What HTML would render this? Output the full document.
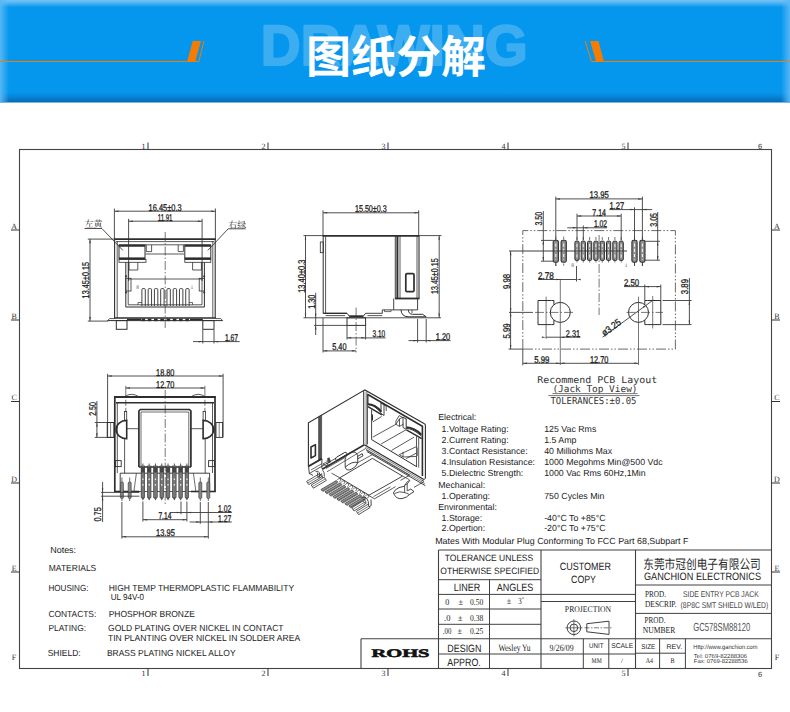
<!DOCTYPE html><html><head><meta charset="utf-8"><title>图纸分解</title>
<style>html,body{margin:0;padding:0;background:#fff}svg{display:block}</style></head><body>
<svg width="790" height="712" viewBox="0 0 790 712" text-rendering="geometricPrecision">
<rect width="790" height="712" fill="#fff"/>
<defs>
<linearGradient id="hb" x1="0" y1="0" x2="0" y2="1">
<stop offset="0" stop-color="#74c3f6"/><stop offset="0.03" stop-color="#50b3f3"/><stop offset="0.07" stop-color="#0596ee"/>
<stop offset="0.90" stop-color="#0596ee"/><stop offset="0.95" stop-color="#0682d6"/><stop offset="1" stop-color="#0769b0"/>
</linearGradient>
<linearGradient id="hl" x1="0" y1="0" x2="1" y2="0">
<stop offset="0" stop-color="#5bb9f4" stop-opacity="0.95"/><stop offset="1" stop-color="#5bb9f4" stop-opacity="0"/>
</linearGradient>
<linearGradient id="hr" x1="1" y1="0" x2="0" y2="0">
<stop offset="0" stop-color="#5bb9f4" stop-opacity="0.95"/><stop offset="1" stop-color="#5bb9f4" stop-opacity="0"/>
</linearGradient>
</defs>
<rect x="0" y="0" width="790" height="102.5" fill="url(#hb)"/>
<rect x="0" y="0" width="9" height="102.5" fill="url(#hl)"/>
<rect x="781" y="0" width="9" height="102.5" fill="url(#hr)"/>
<path d="M0 61.5 H198.8 L203.9 41.1" stroke="#f57c00" stroke-width="1" fill="none"/>
<path d="M187.1 61.5 L192.8 41.1 H201 L195.3 61.5 Z" fill="#f57c00"/>
<path d="M790 61.5 H591.5 L585.2 41.1" stroke="#f57c00" stroke-width="1" fill="none"/>
<path d="M603.9 61.5 L598.5 41.1 H590.1 L596 61.5 Z" fill="#f57c00"/>
<g opacity="0.22"><text x="260.8" y="65.4" font-size="57" font-weight="bold" font-family='"Liberation Sans", "Noto Sans CJK SC", sans-serif' fill="#ffffff" stroke="#ffffff" stroke-width="2" stroke-linejoin="round" textLength="267" lengthAdjust="spacingAndGlyphs">DRAWING</text></g>
<text x="396" y="73" font-size="45" font-weight="bold" font-family='"Liberation Sans","Noto Sans CJK SC",sans-serif' fill="#ffffff" text-anchor="middle">图纸分解</text>
<rect x="19.5" y="149.5" width="752" height="519" stroke="#444" stroke-width="1.1" fill="none" />
<line x1="148" y1="142.5" x2="148" y2="149.5" stroke="#333" stroke-width="1" />
<text x="145.5" y="148.5" font-size="8" font-family='"Liberation Serif", "Noto Serif CJK SC", serif' fill="#333" text-anchor="end" >1</text>
<line x1="148" y1="668.5" x2="148" y2="676" stroke="#333" stroke-width="1" />
<text x="145.5" y="676" font-size="8" font-family='"Liberation Serif", "Noto Serif CJK SC", serif' fill="#333" text-anchor="end" >1</text>
<line x1="268" y1="142.5" x2="268" y2="149.5" stroke="#333" stroke-width="1" />
<text x="265.5" y="148.5" font-size="8" font-family='"Liberation Serif", "Noto Serif CJK SC", serif' fill="#333" text-anchor="end" >2</text>
<line x1="268" y1="668.5" x2="268" y2="676" stroke="#333" stroke-width="1" />
<text x="265.5" y="676" font-size="8" font-family='"Liberation Serif", "Noto Serif CJK SC", serif' fill="#333" text-anchor="end" >2</text>
<line x1="388" y1="142.5" x2="388" y2="149.5" stroke="#333" stroke-width="1" />
<text x="385.5" y="148.5" font-size="8" font-family='"Liberation Serif", "Noto Serif CJK SC", serif' fill="#333" text-anchor="end" >3</text>
<line x1="388" y1="668.5" x2="388" y2="676" stroke="#333" stroke-width="1" />
<text x="385.5" y="676" font-size="8" font-family='"Liberation Serif", "Noto Serif CJK SC", serif' fill="#333" text-anchor="end" >3</text>
<line x1="508" y1="142.5" x2="508" y2="149.5" stroke="#333" stroke-width="1" />
<text x="505.5" y="148.5" font-size="8" font-family='"Liberation Serif", "Noto Serif CJK SC", serif' fill="#333" text-anchor="end" >4</text>
<line x1="508" y1="668.5" x2="508" y2="676" stroke="#333" stroke-width="1" />
<text x="505.5" y="676" font-size="8" font-family='"Liberation Serif", "Noto Serif CJK SC", serif' fill="#333" text-anchor="end" >4</text>
<line x1="628" y1="142.5" x2="628" y2="149.5" stroke="#333" stroke-width="1" />
<text x="625.5" y="148.5" font-size="8" font-family='"Liberation Serif", "Noto Serif CJK SC", serif' fill="#333" text-anchor="end" >5</text>
<line x1="628" y1="668.5" x2="628" y2="676" stroke="#333" stroke-width="1" />
<text x="625.5" y="676" font-size="8" font-family='"Liberation Serif", "Noto Serif CJK SC", serif' fill="#333" text-anchor="end" >5</text>
<text x="760" y="148.5" font-size="7.5" font-family='"Liberation Sans", "Noto Sans CJK SC", sans-serif' fill="#333" text-anchor="middle" >6</text>
<text x="760" y="677" font-size="7.5" font-family='"Liberation Sans", "Noto Sans CJK SC", sans-serif' fill="#333" text-anchor="middle" >6</text>
<line x1="11" y1="230" x2="19.5" y2="230" stroke="#333" stroke-width="1" />
<text x="14.2" y="228.5" font-size="8" font-family='"Liberation Serif", "Noto Serif CJK SC", serif' fill="#333" text-anchor="middle" >A</text>
<line x1="771.5" y1="230" x2="780" y2="230" stroke="#333" stroke-width="1" />
<text x="777" y="228.5" font-size="8" font-family='"Liberation Serif", "Noto Serif CJK SC", serif' fill="#333" text-anchor="middle" >A</text>
<line x1="11" y1="320" x2="19.5" y2="320" stroke="#333" stroke-width="1" />
<text x="14.2" y="318.5" font-size="8" font-family='"Liberation Serif", "Noto Serif CJK SC", serif' fill="#333" text-anchor="middle" >B</text>
<line x1="771.5" y1="320" x2="780" y2="320" stroke="#333" stroke-width="1" />
<text x="777" y="318.5" font-size="8" font-family='"Liberation Serif", "Noto Serif CJK SC", serif' fill="#333" text-anchor="middle" >B</text>
<line x1="11" y1="401.5" x2="19.5" y2="401.5" stroke="#333" stroke-width="1" />
<text x="14.2" y="400.0" font-size="8" font-family='"Liberation Serif", "Noto Serif CJK SC", serif' fill="#333" text-anchor="middle" >C</text>
<line x1="771.5" y1="401.5" x2="780" y2="401.5" stroke="#333" stroke-width="1" />
<text x="777" y="400.0" font-size="8" font-family='"Liberation Serif", "Noto Serif CJK SC", serif' fill="#333" text-anchor="middle" >C</text>
<line x1="11" y1="483" x2="19.5" y2="483" stroke="#333" stroke-width="1" />
<text x="14.2" y="481.5" font-size="8" font-family='"Liberation Serif", "Noto Serif CJK SC", serif' fill="#333" text-anchor="middle" >D</text>
<line x1="771.5" y1="483" x2="780" y2="483" stroke="#333" stroke-width="1" />
<text x="777" y="481.5" font-size="8" font-family='"Liberation Serif", "Noto Serif CJK SC", serif' fill="#333" text-anchor="middle" >D</text>
<line x1="11" y1="572" x2="19.5" y2="572" stroke="#333" stroke-width="1" />
<text x="14.2" y="570.5" font-size="8" font-family='"Liberation Serif", "Noto Serif CJK SC", serif' fill="#333" text-anchor="middle" >E</text>
<line x1="771.5" y1="572" x2="780" y2="572" stroke="#333" stroke-width="1" />
<text x="777" y="570.5" font-size="8" font-family='"Liberation Serif", "Noto Serif CJK SC", serif' fill="#333" text-anchor="middle" >E</text>
<text x="14" y="660.2" font-size="8" font-family='"Liberation Serif", "Noto Serif CJK SC", serif' fill="#333" text-anchor="middle" >F</text>
<text x="777" y="660.2" font-size="8" font-family='"Liberation Serif", "Noto Serif CJK SC", serif' fill="#333" text-anchor="middle" >F</text>
<text x="50.2" y="552.8" font-size="8.9" font-family='"Liberation Sans", "Noto Sans CJK SC", sans-serif' fill="#222" textLength="25.9" lengthAdjust="spacingAndGlyphs" >Notes:</text>
<text x="48.8" y="571.2" font-size="8.9" font-family='"Liberation Sans", "Noto Sans CJK SC", sans-serif' fill="#222" textLength="47.5" lengthAdjust="spacingAndGlyphs" >MATERIALS</text>
<text x="48.4" y="590.7" font-size="8.9" font-family='"Liberation Sans", "Noto Sans CJK SC", sans-serif' fill="#222" textLength="40.1" lengthAdjust="spacingAndGlyphs" >HOUSING:</text>
<text x="108.7" y="590.7" font-size="8.9" font-family='"Liberation Sans", "Noto Sans CJK SC", sans-serif' fill="#222" textLength="185.4" lengthAdjust="spacingAndGlyphs" >HIGH TEMP THERMOPLASTIC FLAMMABILITY</text>
<text x="110.8" y="600.3" font-size="8.9" font-family='"Liberation Sans", "Noto Sans CJK SC", sans-serif' fill="#222" textLength="33.3" lengthAdjust="spacingAndGlyphs" >UL 94V-0</text>
<text x="48.4" y="617.3" font-size="8.9" font-family='"Liberation Sans", "Noto Sans CJK SC", sans-serif' fill="#222" textLength="47.9" lengthAdjust="spacingAndGlyphs" >CONTACTS:</text>
<text x="108.7" y="617.3" font-size="8.9" font-family='"Liberation Sans", "Noto Sans CJK SC", sans-serif' fill="#222" textLength="86.1" lengthAdjust="spacingAndGlyphs" >PHOSPHOR BRONZE</text>
<text x="48.4" y="631.1" font-size="8.9" font-family='"Liberation Sans", "Noto Sans CJK SC", sans-serif' fill="#222" textLength="37.6" lengthAdjust="spacingAndGlyphs" >PLATING:</text>
<text x="108" y="631.1" font-size="8.9" font-family='"Liberation Sans", "Noto Sans CJK SC", sans-serif' fill="#222" textLength="175.5" lengthAdjust="spacingAndGlyphs" >GOLD PLATING OVER NICKEL IN CONTACT</text>
<text x="108" y="640.7" font-size="8.9" font-family='"Liberation Sans", "Noto Sans CJK SC", sans-serif' fill="#222" textLength="192.1" lengthAdjust="spacingAndGlyphs" >TIN PLANTING OVER NICKEL IN SOLDER AREA</text>
<text x="47.7" y="656.3" font-size="8.9" font-family='"Liberation Sans", "Noto Sans CJK SC", sans-serif' fill="#222" textLength="33" lengthAdjust="spacingAndGlyphs" >SHIELD:</text>
<text x="106.9" y="656.3" font-size="8.9" font-family='"Liberation Sans", "Noto Sans CJK SC", sans-serif' fill="#222" textLength="128.7" lengthAdjust="spacingAndGlyphs" >BRASS PLATING NICKEL ALLOY</text>
<text x="438.2" y="420.1" font-size="8.8" font-family='"Liberation Sans", "Noto Sans CJK SC", sans-serif' fill="#222" >Electrical:</text>
<text x="441.6" y="431.9" font-size="8.8" font-family='"Liberation Sans", "Noto Sans CJK SC", sans-serif' fill="#222" >1.Voltage Rating:</text>
<text x="544.2" y="431.9" font-size="8.8" font-family='"Liberation Sans", "Noto Sans CJK SC", sans-serif' fill="#222" >125 Vac Rms</text>
<text x="441.6" y="442.9" font-size="8.8" font-family='"Liberation Sans", "Noto Sans CJK SC", sans-serif' fill="#222" >2.Current Rating:</text>
<text x="544.2" y="442.9" font-size="8.8" font-family='"Liberation Sans", "Noto Sans CJK SC", sans-serif' fill="#222" >1.5 Amp</text>
<text x="441.6" y="454.0" font-size="8.8" font-family='"Liberation Sans", "Noto Sans CJK SC", sans-serif' fill="#222" >3.Contact Resistance:</text>
<text x="544.2" y="454.0" font-size="8.8" font-family='"Liberation Sans", "Noto Sans CJK SC", sans-serif' fill="#222" >40 Milliohms Max</text>
<text x="441.6" y="465.0" font-size="8.8" font-family='"Liberation Sans", "Noto Sans CJK SC", sans-serif' fill="#222" >4.Insulation Resistance:</text>
<text x="544.2" y="465.0" font-size="8.8" font-family='"Liberation Sans", "Noto Sans CJK SC", sans-serif' fill="#222" >1000 Megohms Min@500 Vdc</text>
<text x="441.6" y="476.0" font-size="8.8" font-family='"Liberation Sans", "Noto Sans CJK SC", sans-serif' fill="#222" >5.Dielectric Strength:</text>
<text x="544.2" y="476.0" font-size="8.8" font-family='"Liberation Sans", "Noto Sans CJK SC", sans-serif' fill="#222" >1000 Vac Rms 60Hz,1Min</text>
<text x="438.2" y="487.5" font-size="8.8" font-family='"Liberation Sans", "Noto Sans CJK SC", sans-serif' fill="#222" >Mechanical:</text>
<text x="441.6" y="498.5" font-size="8.8" font-family='"Liberation Sans", "Noto Sans CJK SC", sans-serif' fill="#222" >1.Operating:</text>
<text x="544.2" y="498.5" font-size="8.8" font-family='"Liberation Sans", "Noto Sans CJK SC", sans-serif' fill="#222" >750 Cycles Min</text>
<text x="438.2" y="509.9" font-size="8.8" font-family='"Liberation Sans", "Noto Sans CJK SC", sans-serif' fill="#222" >Environmental:</text>
<text x="441.6" y="520.9" font-size="8.8" font-family='"Liberation Sans", "Noto Sans CJK SC", sans-serif' fill="#222" >1.Storage:</text>
<text x="544.2" y="520.9" font-size="8.8" font-family='"Liberation Sans", "Noto Sans CJK SC", sans-serif' fill="#222" >-40°C To +85°C</text>
<text x="441.6" y="531.2" font-size="8.8" font-family='"Liberation Sans", "Noto Sans CJK SC", sans-serif' fill="#222" >2.Opertion:</text>
<text x="544.2" y="531.2" font-size="8.8" font-family='"Liberation Sans", "Noto Sans CJK SC", sans-serif' fill="#222" >-20°C To +75°C</text>
<text x="435.2" y="543.6" font-size="8.8" font-family='"Liberation Sans", "Noto Sans CJK SC", sans-serif' fill="#222" textLength="253.3" lengthAdjust="spacingAndGlyphs" >Mates With Modular Plug Conforming To FCC Part 68,Subpart F</text>
<line x1="438.5" y1="550" x2="771.5" y2="550" stroke="#404040" stroke-width="1.1" />
<line x1="438.5" y1="550" x2="438.5" y2="668.5" stroke="#404040" stroke-width="1.1" />
<line x1="541" y1="550" x2="541" y2="668.5" stroke="#404040" stroke-width="1.1" />
<line x1="635.5" y1="550" x2="635.5" y2="668.5" stroke="#404040" stroke-width="1.1" />
<line x1="438.5" y1="579.7" x2="541" y2="579.7" stroke="#404040" stroke-width="1" />
<line x1="438.5" y1="594.4" x2="541" y2="594.4" stroke="#404040" stroke-width="1" />
<line x1="438.5" y1="609" x2="541" y2="609" stroke="#404040" stroke-width="1" />
<line x1="438.5" y1="624.3" x2="541" y2="624.3" stroke="#404040" stroke-width="1" />
<line x1="489.5" y1="579.7" x2="489.5" y2="668.5" stroke="#404040" stroke-width="1" />
<line x1="361" y1="638.7" x2="771.5" y2="638.7" stroke="#404040" stroke-width="1.1" />
<line x1="361" y1="638.7" x2="361" y2="668.5" stroke="#404040" stroke-width="1.1" />
<line x1="438.5" y1="654" x2="635.5" y2="654" stroke="#404040" stroke-width="1" />
<line x1="541" y1="594.4" x2="635.5" y2="594.4" stroke="#404040" stroke-width="1" />
<line x1="541" y1="601.5" x2="635.5" y2="601.5" stroke="#404040" stroke-width="1" />
<line x1="583.3" y1="638.7" x2="583.3" y2="668.5" stroke="#404040" stroke-width="1" />
<line x1="608.8" y1="638.7" x2="608.8" y2="668.5" stroke="#404040" stroke-width="1" />
<line x1="635.5" y1="585" x2="771.5" y2="585" stroke="#404040" stroke-width="1" />
<line x1="635.5" y1="613.4" x2="771.5" y2="613.4" stroke="#404040" stroke-width="1" />
<line x1="635.5" y1="653.2" x2="685.4" y2="653.2" stroke="#404040" stroke-width="1" />
<line x1="659.6" y1="638.7" x2="659.6" y2="668.5" stroke="#404040" stroke-width="1" />
<line x1="685.4" y1="638.7" x2="685.4" y2="668.5" stroke="#404040" stroke-width="1" />
<text x="489" y="561.3" font-size="9.2" font-family='"Liberation Sans", "Noto Sans CJK SC", sans-serif' fill="#222" text-anchor="middle" textLength="88.4" lengthAdjust="spacingAndGlyphs" >TOLERANCE UNLESS</text>
<text x="489.7" y="573.5" font-size="9.2" font-family='"Liberation Sans", "Noto Sans CJK SC", sans-serif' fill="#222" text-anchor="middle" textLength="98.7" lengthAdjust="spacingAndGlyphs" >OTHERWISE SPECIFIED</text>
<text x="467" y="590.6" font-size="10.6" font-family='"Liberation Sans", "Noto Sans CJK SC", sans-serif' fill="#222" text-anchor="middle" textLength="26.6" lengthAdjust="spacingAndGlyphs" >LINER</text>
<text x="515" y="590.6" font-size="10.6" font-family='"Liberation Sans", "Noto Sans CJK SC", sans-serif' fill="#222" text-anchor="middle" textLength="36.5" lengthAdjust="spacingAndGlyphs" >ANGLES</text>
<text x="445.3" y="605.3" font-size="9.2" font-family='"Liberation Serif", "Noto Serif CJK SC", serif' fill="#222" textLength="4" lengthAdjust="spacingAndGlyphs" >0</text>
<text x="458.5" y="605.3" font-size="9.2" font-family='"Liberation Serif", "Noto Serif CJK SC", serif' fill="#222" textLength="4.5" lengthAdjust="spacingAndGlyphs" >±</text>
<text x="470.1" y="605.3" font-size="9.2" font-family='"Liberation Serif", "Noto Serif CJK SC", serif' fill="#222" textLength="13.2" lengthAdjust="spacingAndGlyphs" >0.50</text>
<text x="444" y="620.5" font-size="9.2" font-family='"Liberation Serif", "Noto Serif CJK SC", serif' fill="#222" textLength="6.4" lengthAdjust="spacingAndGlyphs" >.0</text>
<text x="458" y="620.5" font-size="9.2" font-family='"Liberation Serif", "Noto Serif CJK SC", serif' fill="#222" textLength="4.5" lengthAdjust="spacingAndGlyphs" >±</text>
<text x="470.1" y="620.5" font-size="9.2" font-family='"Liberation Serif", "Noto Serif CJK SC", serif' fill="#222" textLength="13.2" lengthAdjust="spacingAndGlyphs" >0.38</text>
<text x="442.8" y="634.2" font-size="9.2" font-family='"Liberation Serif", "Noto Serif CJK SC", serif' fill="#222" textLength="8.6" lengthAdjust="spacingAndGlyphs" >.00</text>
<text x="457.5" y="634.2" font-size="9.2" font-family='"Liberation Serif", "Noto Serif CJK SC", serif' fill="#222" textLength="4.5" lengthAdjust="spacingAndGlyphs" >±</text>
<text x="470.1" y="634.2" font-size="9.2" font-family='"Liberation Serif", "Noto Serif CJK SC", serif' fill="#222" textLength="13.2" lengthAdjust="spacingAndGlyphs" >0.25</text>
<text x="506.8" y="604.3" font-size="9.2" font-family='"Liberation Serif", "Noto Serif CJK SC", serif' fill="#222" textLength="4.5" lengthAdjust="spacingAndGlyphs" >±</text>
<text x="518.2" y="604.3" font-size="9.2" font-family='"Liberation Serif", "Noto Serif CJK SC", serif' fill="#222" textLength="3.4" lengthAdjust="spacingAndGlyphs" >3</text>
<text x="521.8" y="601" font-size="6" font-family='"Liberation Serif", "Noto Serif CJK SC", serif' fill="#222" >°</text>
<text x="464.4" y="651.9" font-size="10.6" font-family='"Liberation Sans", "Noto Sans CJK SC", sans-serif' fill="#222" text-anchor="middle" textLength="34.2" lengthAdjust="spacingAndGlyphs" >DESIGN</text>
<text x="464" y="665.8" font-size="10.6" font-family='"Liberation Sans", "Noto Sans CJK SC", sans-serif' fill="#222" text-anchor="middle" textLength="33.5" lengthAdjust="spacingAndGlyphs" >APPRO.</text>
<text x="514.5" y="650.9" font-size="9.6" font-family='"Liberation Serif", "Noto Serif CJK SC", serif' fill="#222" text-anchor="middle" textLength="32" lengthAdjust="spacingAndGlyphs" >Wesley Yu</text>
<text x="561.6" y="651" font-size="9.6" font-family='"Liberation Serif", "Noto Serif CJK SC", serif' fill="#222" text-anchor="middle" textLength="24" lengthAdjust="spacingAndGlyphs" >9/26/09</text>
<text x="596.3" y="648.1" font-size="7" font-family='"Liberation Sans", "Noto Sans CJK SC", sans-serif' fill="#222" text-anchor="middle" textLength="14.4" lengthAdjust="spacingAndGlyphs" >UNIT</text>
<text x="622.2" y="648.1" font-size="7" font-family='"Liberation Sans", "Noto Sans CJK SC", sans-serif' fill="#222" text-anchor="middle" textLength="22" lengthAdjust="spacingAndGlyphs" >SCALE</text>
<text x="596.7" y="662.8" font-size="7.4" font-family='"Liberation Serif", "Noto Serif CJK SC", serif' fill="#222" text-anchor="middle" textLength="10.2" lengthAdjust="spacingAndGlyphs" >MM</text>
<text x="622" y="663" font-size="7" font-family='"Liberation Serif", "Noto Serif CJK SC", serif' fill="#222" text-anchor="middle" >/</text>
<text x="585.4" y="569.9" font-size="10.6" font-family='"Liberation Sans", "Noto Sans CJK SC", sans-serif' fill="#222" text-anchor="middle" textLength="51.4" lengthAdjust="spacingAndGlyphs" >CUSTOMER</text>
<text x="583.5" y="583" font-size="10.6" font-family='"Liberation Sans", "Noto Sans CJK SC", sans-serif' fill="#222" text-anchor="middle" textLength="24.9" lengthAdjust="spacingAndGlyphs" >COPY</text>
<text x="588" y="611.6" font-size="8.8" font-family='"Liberation Serif", "Noto Serif CJK SC", serif' fill="#222" text-anchor="middle" textLength="46.3" lengthAdjust="spacingAndGlyphs" >PROJECTION</text>
<circle cx="573.9" cy="627.8" r="6.8" fill="none" stroke="#404040" stroke-width="1"/>
<circle cx="573.9" cy="627.8" r="3.8" fill="none" stroke="#404040" stroke-width="1"/>
<line x1="565.3" y1="627.8" x2="582.5" y2="627.8" stroke="#404040" stroke-width="0.7" />
<line x1="573.9" y1="619.2" x2="573.9" y2="636.4" stroke="#404040" stroke-width="0.7" />
<path d="M586.8 623.7 L609 621.2 V634.4 L586.8 631.8 Z" stroke="#404040" stroke-width="1" fill="none" />
<line x1="584.5" y1="627.8" x2="611.5" y2="627.8" stroke="#404040" stroke-width="0.7" stroke-dasharray="5 1.5 1.5 1.5"/>
<text x="702" y="568.5" font-size="13.2" font-family='"Liberation Sans","Noto Sans CJK SC",sans-serif' fill="#2a2a2a" text-anchor="middle" textLength="117.6" lengthAdjust="spacingAndGlyphs" >东莞市冠创电子有限公司</text>
<text x="702.5" y="579.7" font-size="10.7" font-family='"Liberation Sans", "Noto Sans CJK SC", sans-serif' fill="#222" text-anchor="middle" textLength="117" lengthAdjust="spacingAndGlyphs" >GANCHION ELECTRONICS</text>
<text x="645" y="596.5" font-size="9" font-family='"Liberation Serif", "Noto Serif CJK SC", serif' fill="#222" textLength="21" lengthAdjust="spacingAndGlyphs" >PROD.</text>
<text x="645" y="606.9" font-size="9" font-family='"Liberation Serif", "Noto Serif CJK SC", serif' fill="#222" textLength="31.5" lengthAdjust="spacingAndGlyphs" >DESCRIP.</text>
<text x="683" y="597" font-size="8.4" font-family='"Liberation Sans", "Noto Sans CJK SC", sans-serif' fill="#444" textLength="75.7" lengthAdjust="spacingAndGlyphs" >SIDE ENTRY PCB JACK</text>
<text x="680.6" y="608" font-size="8.4" font-family='"Liberation Sans", "Noto Sans CJK SC", sans-serif' fill="#444" textLength="87.7" lengthAdjust="spacingAndGlyphs" >(8P8C SMT SHIELD W/LED)</text>
<text x="644.5" y="623" font-size="9" font-family='"Liberation Serif", "Noto Serif CJK SC", serif' fill="#222" textLength="21" lengthAdjust="spacingAndGlyphs" >PROD.</text>
<text x="642.8" y="632.6" font-size="9" font-family='"Liberation Serif", "Noto Serif CJK SC", serif' fill="#222" textLength="32.5" lengthAdjust="spacingAndGlyphs" >NUMBER</text>
<text x="693.3" y="631.4" font-size="11.7" font-family='"Liberation Sans", "Noto Sans CJK SC", sans-serif' fill="#555" textLength="57" lengthAdjust="spacingAndGlyphs" >GC578SM88120</text>
<text x="648.3" y="648.7" font-size="6.8" font-family='"Liberation Sans", "Noto Sans CJK SC", sans-serif' fill="#222" text-anchor="middle" textLength="14" lengthAdjust="spacingAndGlyphs" >SIZE</text>
<text x="674.4" y="648.7" font-size="6.8" font-family='"Liberation Sans", "Noto Sans CJK SC", sans-serif' fill="#222" text-anchor="middle" textLength="15.7" lengthAdjust="spacingAndGlyphs" >REV.</text>
<text x="649.3" y="662.7" font-size="7.4" font-family='"Liberation Serif", "Noto Serif CJK SC", serif' fill="#222" text-anchor="middle" textLength="7.3" lengthAdjust="spacingAndGlyphs" >A4</text>
<text x="672.5" y="662.7" font-size="7.4" font-family='"Liberation Serif", "Noto Serif CJK SC", serif' fill="#222" text-anchor="middle" textLength="4.1" lengthAdjust="spacingAndGlyphs" >B</text>
<text x="693.3" y="648.7" font-size="6.2" font-family='"Liberation Sans", "Noto Sans CJK SC", sans-serif' fill="#333" textLength="64.2" lengthAdjust="spacingAndGlyphs" >Http://www.ganchion.com</text>
<text x="693.8" y="657.8" font-size="5.8" font-family='"Liberation Sans", "Noto Sans CJK SC", sans-serif' fill="#333" textLength="53.4" lengthAdjust="spacingAndGlyphs" >Tel:   0769-82288306</text>
<text x="693.8" y="663.1" font-size="5.8" font-family='"Liberation Sans", "Noto Sans CJK SC", sans-serif' fill="#333" textLength="54.1" lengthAdjust="spacingAndGlyphs" >Fax:  0769-82288536</text>
<text x="371.5" y="657.2" font-size="11.5" font-family='"Liberation Serif", "Noto Serif CJK SC", serif' fill="#111" font-weight="bold" textLength="58" lengthAdjust="spacingAndGlyphs" stroke="#111" stroke-width="0.55">ROHS</text>
<line x1="114.4" y1="211.2" x2="215.4" y2="211.2" stroke="#3c3c3c" stroke-width="0.9" />
<path d="M114.4 211.2 L118.6 210.4 L118.6 211.9 Z" fill="#3c3c3c"/>
<path d="M215.4 211.2 L211.2 211.9 L211.2 210.4 Z" fill="#3c3c3c"/>
<text x="148.6" y="210.7" font-size="9.8" font-family='"Liberation Sans", "Noto Sans CJK SC", sans-serif' fill="#222" textLength="33.0" lengthAdjust="spacingAndGlyphs" stroke="#222" stroke-width="0.3">16.45±0.3</text>
<line x1="114.4" y1="208.5" x2="114.4" y2="239" stroke="#3c3c3c" stroke-width="0.9" />
<line x1="215.4" y1="208.5" x2="215.4" y2="239" stroke="#3c3c3c" stroke-width="0.9" />
<line x1="128.6" y1="221.2" x2="202.1" y2="221.2" stroke="#3c3c3c" stroke-width="0.9" />
<path d="M128.6 221.2 L132.8 220.4 L132.8 221.9 Z" fill="#3c3c3c"/>
<path d="M202.1 221.2 L197.9 221.9 L197.9 220.4 Z" fill="#3c3c3c"/>
<text x="157.7" y="220.7" font-size="9.8" font-family='"Liberation Sans", "Noto Sans CJK SC", sans-serif' fill="#222" textLength="14.8" lengthAdjust="spacingAndGlyphs" stroke="#222" stroke-width="0.3">11.91</text>
<line x1="128.6" y1="218.8" x2="128.6" y2="281" stroke="#3c3c3c" stroke-width="0.9" />
<line x1="202.1" y1="218.8" x2="202.1" y2="281" stroke="#3c3c3c" stroke-width="0.9" />
<line x1="90" y1="239.1" x2="90" y2="321.1" stroke="#3c3c3c" stroke-width="0.9" />
<path d="M90.0 239.1 L90.8 243.3 L89.2 243.3 Z" fill="#3c3c3c"/>
<path d="M90.0 321.1 L89.2 316.9 L90.8 316.9 Z" fill="#3c3c3c"/>
<text x="89.1" y="298.4" font-size="9.8" font-family='"Liberation Sans", "Noto Sans CJK SC", sans-serif' fill="#222" textLength="36.5" lengthAdjust="spacingAndGlyphs" transform="rotate(-90 89.1 298.4)" stroke="#222" stroke-width="0.3">13.45±0.15</text>
<line x1="87.8" y1="239.1" x2="114.4" y2="239.1" stroke="#3c3c3c" stroke-width="0.9" />
<line x1="87.8" y1="321.1" x2="108" y2="321.1" stroke="#3c3c3c" stroke-width="0.9" />
<line x1="193" y1="341.6" x2="239.7" y2="341.6" stroke="#3c3c3c" stroke-width="0.9" />
<path d="M202.8 341.6 L198.6 342.4 L198.6 340.9 Z" fill="#3c3c3c"/>
<path d="M214.0 341.6 L218.2 340.9 L218.2 342.4 Z" fill="#3c3c3c"/>
<text x="224.9" y="341.1" font-size="9.8" font-family='"Liberation Sans", "Noto Sans CJK SC", sans-serif' fill="#222" textLength="13.2" lengthAdjust="spacingAndGlyphs" stroke="#222" stroke-width="0.3">1.67</text>
<line x1="202.8" y1="330" x2="202.8" y2="343.5" stroke="#3c3c3c" stroke-width="0.9" />
<line x1="214" y1="330" x2="214" y2="343.5" stroke="#3c3c3c" stroke-width="0.9" />
<text x="84.6" y="227.3" font-size="9" font-family='"Liberation Serif","Noto Serif CJK SC",serif' fill="#2a2a2a" >左黄</text>
<line x1="84.5" y1="228.5" x2="101.9" y2="228.5" stroke="#3c3c3c" stroke-width="0.9" />
<line x1="101.9" y1="228.5" x2="122.9" y2="250.4" stroke="#3c3c3c" stroke-width="0.9" />
<text x="228.2" y="227.6" font-size="9" font-family='"Liberation Serif","Noto Serif CJK SC",serif' fill="#2a2a2a" >右绿</text>
<line x1="228.2" y1="228.8" x2="245.6" y2="228.8" stroke="#3c3c3c" stroke-width="0.9" />
<line x1="228.2" y1="228.8" x2="207.8" y2="250.4" stroke="#3c3c3c" stroke-width="0.9" />
<line x1="165.2" y1="232" x2="165.2" y2="329" stroke="#3c3c3c" stroke-width="0.7" stroke-dasharray="9 2 1.5 2"/>
<line x1="114" y1="239.2" x2="215.8" y2="239.2" stroke="#2e2e2e" stroke-width="1.8" />
<line x1="116" y1="241.6" x2="214" y2="241.6" stroke="#2e2e2e" stroke-width="0.8" />
<line x1="114.6" y1="239" x2="114.6" y2="318.5" stroke="#2e2e2e" stroke-width="1.1" />
<line x1="117.2" y1="241" x2="117.2" y2="318" stroke="#2e2e2e" stroke-width="0.8" />
<line x1="215.2" y1="239" x2="215.2" y2="318.5" stroke="#2e2e2e" stroke-width="1.1" />
<line x1="212.8" y1="241" x2="212.8" y2="318" stroke="#2e2e2e" stroke-width="0.8" />
<rect x="119" y="245" width="26" height="14" stroke="#2e2e2e" stroke-width="1.0" fill="none" />
<line x1="119" y1="245.6" x2="145" y2="245.6" stroke="#2e2e2e" stroke-width="2.3" />
<line x1="119" y1="258.4" x2="145" y2="258.4" stroke="#2e2e2e" stroke-width="2.0" />
<rect x="119" y="259.6" width="27" height="2.7" stroke="#2e2e2e" stroke-width="0.8" fill="none" />
<rect x="184.8" y="245" width="26.0" height="14" stroke="#2e2e2e" stroke-width="1.0" fill="none" />
<line x1="184.8" y1="245.6" x2="210.8" y2="245.6" stroke="#2e2e2e" stroke-width="2.3" />
<line x1="184.8" y1="258.4" x2="210.8" y2="258.4" stroke="#2e2e2e" stroke-width="2.0" />
<rect x="184.8" y="259.6" width="26.0" height="2.7" stroke="#2e2e2e" stroke-width="0.8" fill="none" />
<path d="M146.3 245 V251.6 H151.6 V245" stroke="#2e2e2e" stroke-width="0.8" fill="none" />
<path d="M183.4 245 V251.6 H178.2 V245" stroke="#2e2e2e" stroke-width="0.8" fill="none" />
<line x1="145" y1="244.8" x2="184.8" y2="244.8" stroke="#2e2e2e" stroke-width="0.8" />
<line x1="151.6" y1="254" x2="178.2" y2="254" stroke="#2e2e2e" stroke-width="0.8" />
<line x1="145.6" y1="254" x2="151.6" y2="254" stroke="#2e2e2e" stroke-width="0.8" />
<line x1="178.2" y1="254" x2="184.2" y2="254" stroke="#2e2e2e" stroke-width="0.8" />
<path d="M125.8 262.3 V307 H204.4 V262.3" stroke="#2e2e2e" stroke-width="1.0" fill="none" />
<path d="M128.2 262.3 V304.8 H202 V262.3" stroke="#2e2e2e" stroke-width="0.8" fill="none" />
<path d="M129 262.3 V270 H137.8 V262.3" stroke="#2e2e2e" stroke-width="0.8" fill="none" />
<path d="M201.4 262.3 V270 H192.6 V262.3" stroke="#2e2e2e" stroke-width="0.8" fill="none" />
<line x1="128.2" y1="279" x2="202" y2="279" stroke="#2e2e2e" stroke-width="0.8" />
<rect x="125.8" y="278.3" width="5.2" height="12.7" stroke="#2e2e2e" stroke-width="0.8" fill="none" />
<rect x="199.2" y="278.3" width="5.2" height="12.7" stroke="#2e2e2e" stroke-width="0.8" fill="none" />
<circle cx="126" cy="276.3" r="1" fill="#2e2e2e"/><circle cx="126" cy="292.6" r="1" fill="#2e2e2e"/>
<circle cx="204.2" cy="276.3" r="1" fill="#2e2e2e"/><circle cx="204.2" cy="292.6" r="1" fill="#2e2e2e"/>
<path d="M141.90 306 V289.6 Q141.90 288.6 142.90 288.6 H144.30 Q145.30 288.6 145.30 289.6 V306" stroke="#2e2e2e" stroke-width="0.9" fill="none" />
<path d="M148.16 306 V289.6 Q148.16 288.6 149.16 288.6 H150.56 Q151.56 288.6 151.56 289.6 V306" stroke="#2e2e2e" stroke-width="0.9" fill="none" />
<path d="M154.42 306 V289.6 Q154.42 288.6 155.42 288.6 H156.82 Q157.82 288.6 157.82 289.6 V306" stroke="#2e2e2e" stroke-width="0.9" fill="none" />
<path d="M160.68 306 V289.6 Q160.68 288.6 161.68 288.6 H163.08 Q164.08 288.6 164.08 289.6 V306" stroke="#2e2e2e" stroke-width="0.9" fill="none" />
<path d="M166.94 306 V289.6 Q166.94 288.6 167.94 288.6 H169.34 Q170.34 288.6 170.34 289.6 V306" stroke="#2e2e2e" stroke-width="0.9" fill="none" />
<path d="M173.20 306 V289.6 Q173.20 288.6 174.20 288.6 H175.60 Q176.60 288.6 176.60 289.6 V306" stroke="#2e2e2e" stroke-width="0.9" fill="none" />
<path d="M179.46 306 V289.6 Q179.46 288.6 180.46 288.6 H181.86 Q182.86 288.6 182.86 289.6 V306" stroke="#2e2e2e" stroke-width="0.9" fill="none" />
<path d="M185.72 306 V289.6 Q185.72 288.6 186.72 288.6 H188.12 Q189.12 288.6 189.12 289.6 V306" stroke="#2e2e2e" stroke-width="0.9" fill="none" />
<line x1="138" y1="302.5" x2="141.9" y2="302.5" stroke="#2e2e2e" stroke-width="0.7" />
<line x1="189.3" y1="302.5" x2="192.5" y2="302.5" stroke="#2e2e2e" stroke-width="0.7" />
<line x1="138" y1="302.5" x2="138" y2="304.8" stroke="#2e2e2e" stroke-width="0.7" />
<line x1="192.5" y1="302.5" x2="192.5" y2="304.8" stroke="#2e2e2e" stroke-width="0.7" />
<text x="136.2" y="288.6" font-size="5.5" font-family='"Liberation Serif", "Noto Serif CJK SC", serif' fill="#666" >8</text>
<text x="190.6" y="288.6" font-size="5.5" font-family='"Liberation Serif", "Noto Serif CJK SC", serif' fill="#666" >1</text>
<line x1="114" y1="318" x2="215.8" y2="318" stroke="#2e2e2e" stroke-width="1.6" />
<line x1="107.6" y1="320.6" x2="222.7" y2="320.6" stroke="#2e2e2e" stroke-width="1.0" />
<path d="M107.6 320.6 L109.5 318.6 H114" stroke="#2e2e2e" stroke-width="0.8" fill="none" />
<path d="M222.7 320.6 L220.8 318.6 H215.8" stroke="#2e2e2e" stroke-width="0.8" fill="none" />
<rect x="116.3" y="320.6" width="10.7" height="8.7" stroke="#2e2e2e" stroke-width="1.0" fill="none" />
<rect x="202.8" y="320.6" width="11.2" height="8.7" stroke="#2e2e2e" stroke-width="1.0" fill="none" />
<rect x="141.50" y="318.6" width="3.6" height="2.6" fill="#2e2e2e"/>
<rect x="147.76" y="318.6" width="3.6" height="2.6" fill="#2e2e2e"/>
<rect x="154.02" y="318.6" width="3.6" height="2.6" fill="#2e2e2e"/>
<rect x="160.28" y="318.6" width="3.6" height="2.6" fill="#2e2e2e"/>
<rect x="166.54" y="318.6" width="3.6" height="2.6" fill="#2e2e2e"/>
<rect x="172.80" y="318.6" width="3.6" height="2.6" fill="#2e2e2e"/>
<rect x="179.06" y="318.6" width="3.6" height="2.6" fill="#2e2e2e"/>
<rect x="185.32" y="318.6" width="3.6" height="2.6" fill="#2e2e2e"/>
<line x1="127" y1="319.4" x2="141" y2="319.4" stroke="#2e2e2e" stroke-width="1.4" />
<line x1="190" y1="319.4" x2="202.8" y2="319.4" stroke="#2e2e2e" stroke-width="1.4" />
<line x1="323" y1="212.8" x2="418.7" y2="212.8" stroke="#3c3c3c" stroke-width="0.9" />
<path d="M323.0 212.8 L327.2 212.1 L327.2 213.6 Z" fill="#3c3c3c"/>
<path d="M418.7 212.8 L414.5 213.6 L414.5 212.1 Z" fill="#3c3c3c"/>
<text x="354.9" y="212.3" font-size="9.8" font-family='"Liberation Sans", "Noto Sans CJK SC", sans-serif' fill="#222" textLength="31.9" lengthAdjust="spacingAndGlyphs" stroke="#222" stroke-width="0.3">15.50±0.3</text>
<line x1="323" y1="210.3" x2="323" y2="235.6" stroke="#3c3c3c" stroke-width="0.9" />
<line x1="418.7" y1="210.3" x2="418.7" y2="235.6" stroke="#3c3c3c" stroke-width="0.9" />
<line x1="303.5" y1="235.6" x2="323" y2="235.6" stroke="#3c3c3c" stroke-width="0.9" />
<line x1="418.7" y1="235.6" x2="441.5" y2="235.6" stroke="#3c3c3c" stroke-width="0.9" />
<line x1="305.5" y1="235.6" x2="305.5" y2="317.8" stroke="#3c3c3c" stroke-width="0.9" />
<path d="M305.5 235.6 L306.2 239.8 L304.8 239.8 Z" fill="#3c3c3c"/>
<path d="M305.5 317.8 L304.8 313.6 L306.2 313.6 Z" fill="#3c3c3c"/>
<text x="304.6" y="292.8" font-size="9.8" font-family='"Liberation Sans", "Noto Sans CJK SC", sans-serif' fill="#222" textLength="33.3" lengthAdjust="spacingAndGlyphs" transform="rotate(-90 304.6 292.8)" stroke="#222" stroke-width="0.3">13.40±0.3</text>
<line x1="439.2" y1="235.6" x2="439.2" y2="317.8" stroke="#3c3c3c" stroke-width="0.9" />
<path d="M439.2 235.6 L439.9 239.8 L438.4 239.8 Z" fill="#3c3c3c"/>
<path d="M439.2 317.8 L438.4 313.6 L439.9 313.6 Z" fill="#3c3c3c"/>
<text x="438.3" y="294" font-size="9.8" font-family='"Liberation Sans", "Noto Sans CJK SC", sans-serif' fill="#222" textLength="35.6" lengthAdjust="spacingAndGlyphs" transform="rotate(-90 438.3 294)" stroke="#222" stroke-width="0.3">13.45±0.15</text>
<line x1="303.5" y1="317.8" x2="441" y2="317.8" stroke="#3c3c3c" stroke-width="0.9" />
<line x1="315.7" y1="292.8" x2="315.7" y2="335" stroke="#3c3c3c" stroke-width="0.9" />
<path d="M315.7 317.8 L314.9 313.6 L316.4 313.6 Z" fill="#3c3c3c"/>
<path d="M315.7 325.4 L316.4 329.6 L314.9 329.6 Z" fill="#3c3c3c"/>
<text x="314.8" y="308.7" font-size="9.8" font-family='"Liberation Sans", "Noto Sans CJK SC", sans-serif' fill="#222" textLength="14.1" lengthAdjust="spacingAndGlyphs" transform="rotate(-90 314.8 308.7)" stroke="#222" stroke-width="0.3">1.30</text>
<line x1="314" y1="325.4" x2="347" y2="325.4" stroke="#3c3c3c" stroke-width="0.9" />
<line x1="347" y1="337.9" x2="385.7" y2="337.9" stroke="#3c3c3c" stroke-width="0.9" />
<path d="M347.0 337.9 L351.2 337.1 L351.2 338.6 Z" fill="#3c3c3c"/>
<path d="M365.6 337.9 L361.4 338.6 L361.4 337.1 Z" fill="#3c3c3c"/>
<text x="372.5" y="337.4" font-size="9.8" font-family='"Liberation Sans", "Noto Sans CJK SC", sans-serif' fill="#222" textLength="12.7" lengthAdjust="spacingAndGlyphs" stroke="#222" stroke-width="0.3">3.10</text>
<line x1="347" y1="325.4" x2="347" y2="339.5" stroke="#3c3c3c" stroke-width="0.9" />
<line x1="365.6" y1="325.4" x2="365.6" y2="339.5" stroke="#3c3c3c" stroke-width="0.9" />
<line x1="323" y1="350.9" x2="356.1" y2="350.9" stroke="#3c3c3c" stroke-width="0.9" />
<path d="M323.0 350.9 L327.2 350.1 L327.2 351.6 Z" fill="#3c3c3c"/>
<path d="M356.1 350.9 L351.9 351.6 L351.9 350.1 Z" fill="#3c3c3c"/>
<text x="332.2" y="350.4" font-size="9.8" font-family='"Liberation Sans", "Noto Sans CJK SC", sans-serif' fill="#222" textLength="14.3" lengthAdjust="spacingAndGlyphs" stroke="#222" stroke-width="0.3">5.40</text>
<line x1="323" y1="318" x2="323" y2="352.5" stroke="#3c3c3c" stroke-width="0.9" />
<line x1="356.1" y1="307.6" x2="356.1" y2="352.5" stroke="#3c3c3c" stroke-width="0.7" stroke-dasharray="9 2 1.5 2"/>
<line x1="408.5" y1="340.6" x2="450.6" y2="340.6" stroke="#3c3c3c" stroke-width="0.9" />
<path d="M417.6 340.6 L413.4 341.4 L413.4 339.9 Z" fill="#3c3c3c"/>
<path d="M426.2 340.6 L430.4 339.9 L430.4 341.4 Z" fill="#3c3c3c"/>
<text x="435.8" y="340.1" font-size="9.8" font-family='"Liberation Sans", "Noto Sans CJK SC", sans-serif' fill="#222" textLength="14.4" lengthAdjust="spacingAndGlyphs" stroke="#222" stroke-width="0.3">1.20</text>
<line x1="417.6" y1="319" x2="417.6" y2="342.5" stroke="#3c3c3c" stroke-width="0.9" />
<line x1="426.2" y1="319" x2="426.2" y2="342.5" stroke="#3c3c3c" stroke-width="0.9" />
<line x1="322.6" y1="235.8" x2="419.4" y2="235.8" stroke="#2e2e2e" stroke-width="1.8" />
<line x1="323.2" y1="235.6" x2="323.2" y2="313.5" stroke="#2e2e2e" stroke-width="1.0" />
<line x1="325.6" y1="236.5" x2="325.6" y2="313" stroke="#2e2e2e" stroke-width="0.8" />
<rect x="320.3" y="242" width="2.9" height="10.7" stroke="#2e2e2e" stroke-width="0.8" fill="none" />
<line x1="395.3" y1="236" x2="395.3" y2="298.5" stroke="#2e2e2e" stroke-width="0.9" />
<line x1="397.4" y1="236" x2="397.4" y2="298.5" stroke="#2e2e2e" stroke-width="2.0" />
<line x1="400" y1="236" x2="400" y2="298.5" stroke="#2e2e2e" stroke-width="0.8" />
<line x1="417" y1="236" x2="417" y2="298.5" stroke="#2e2e2e" stroke-width="0.8" />
<line x1="419" y1="236" x2="419" y2="298.5" stroke="#2e2e2e" stroke-width="1.1" />
<line x1="395" y1="298.5" x2="419.4" y2="298.5" stroke="#2e2e2e" stroke-width="1.8" />
<rect x="405.8" y="273.6" width="8.2" height="18" rx="1.2" fill="none" stroke="#2e2e2e" stroke-width="1.7"/>
<path d="M417.6 298.5 V309.9 H393.7 V298.5" stroke="#2e2e2e" stroke-width="0.9" fill="none" />
<path d="M393.7 309.9 H382.3 V313.3 H365.6" stroke="#2e2e2e" stroke-width="0.9" fill="none" />
<path d="M384.5 309.9 V311.6 H391 V309.9" stroke="#2e2e2e" stroke-width="0.7" fill="none" />
<line x1="323.2" y1="313.3" x2="347" y2="313.3" stroke="#2e2e2e" stroke-width="1.4" />
<line x1="325.6" y1="315.6" x2="345" y2="315.6" stroke="#2e2e2e" stroke-width="0.8" />
<line x1="367.5" y1="315.6" x2="382.3" y2="315.6" stroke="#2e2e2e" stroke-width="0.8" />
<path d="M347 313.3 L349.3 316.2 H363.3 L365.6 313.3" stroke="#2e2e2e" stroke-width="1.0" fill="none" />
<line x1="349.3" y1="316.2" x2="363.3" y2="316.2" stroke="#2e2e2e" stroke-width="1.6" />
<rect x="347" y="317.8" width="18.6" height="7.6" stroke="#2e2e2e" stroke-width="1.0" fill="none" />
<path d="M401 309.9 Q401.4 316.4 408 316.8 H426.2" stroke="#2e2e2e" stroke-width="1.0" fill="none" />
<path d="M408.4 309.9 Q408.6 314.2 412.6 314.3 H422.6 L426.2 316.8" stroke="#2e2e2e" stroke-width="1.0" fill="none" />
<path d="M412 309.9 V313" stroke="#2e2e2e" stroke-width="0.8" fill="none" />
<path d="M522.8 349.1 V230.6 H675.4 V349.1 Z" stroke="#444" stroke-width="0.8" fill="none" stroke-dasharray="10 2 1.5 2 1.5 2"/>
<line x1="555.8" y1="198.9" x2="642.4" y2="198.9" stroke="#3c3c3c" stroke-width="0.9" />
<path d="M555.8 198.9 L560.0 198.2 L560.0 199.7 Z" fill="#3c3c3c"/>
<path d="M642.4 198.9 L638.2 199.7 L638.2 198.2 Z" fill="#3c3c3c"/>
<text x="589.5" y="198.4" font-size="9.8" font-family='"Liberation Sans", "Noto Sans CJK SC", sans-serif' fill="#222" textLength="19.4" lengthAdjust="spacingAndGlyphs" stroke="#222" stroke-width="0.3">13.95</text>
<line x1="555.8" y1="196.6" x2="555.8" y2="266" stroke="#3c3c3c" stroke-width="0.9" />
<line x1="642.4" y1="196.6" x2="642.4" y2="266" stroke="#3c3c3c" stroke-width="0.9" />
<line x1="609.4" y1="209.6" x2="652.2" y2="209.6" stroke="#3c3c3c" stroke-width="0.9" />
<path d="M634.5 209.6 L630.3 210.3 L630.3 208.8 Z" fill="#3c3c3c"/>
<path d="M642.4 209.6 L646.6 208.8 L646.6 210.3 Z" fill="#3c3c3c"/>
<text x="609.4" y="209.1" font-size="9.8" font-family='"Liberation Sans", "Noto Sans CJK SC", sans-serif' fill="#222" textLength="14.8" lengthAdjust="spacingAndGlyphs" stroke="#222" stroke-width="0.3">1.27</text>
<line x1="634.5" y1="207.3" x2="634.5" y2="266" stroke="#3c3c3c" stroke-width="0.9" />
<line x1="577" y1="216" x2="621.2" y2="216" stroke="#3c3c3c" stroke-width="0.9" />
<path d="M577.0 216.0 L581.2 215.2 L581.2 216.8 Z" fill="#3c3c3c"/>
<path d="M621.2 216.0 L617.0 216.8 L617.0 215.2 Z" fill="#3c3c3c"/>
<text x="592.3" y="215.5" font-size="9.8" font-family='"Liberation Sans", "Noto Sans CJK SC", sans-serif' fill="#222" textLength="13.7" lengthAdjust="spacingAndGlyphs" stroke="#222" stroke-width="0.3">7.14</text>
<line x1="577" y1="213.7" x2="577" y2="240.5" stroke="#3c3c3c" stroke-width="0.9" />
<line x1="621.2" y1="213.7" x2="621.2" y2="240.5" stroke="#3c3c3c" stroke-width="0.9" />
<line x1="567.2" y1="227.8" x2="607.1" y2="227.8" stroke="#3c3c3c" stroke-width="0.9" />
<path d="M577.0 227.8 L572.8 228.6 L572.8 227.1 Z" fill="#3c3c3c"/>
<path d="M583.3 227.8 L587.5 227.1 L587.5 228.6 Z" fill="#3c3c3c"/>
<text x="593.9" y="227.3" font-size="9.8" font-family='"Liberation Sans", "Noto Sans CJK SC", sans-serif' fill="#222" textLength="13.2" lengthAdjust="spacingAndGlyphs" stroke="#222" stroke-width="0.3">1.02</text>
<line x1="583.3" y1="225.5" x2="583.3" y2="240.5" stroke="#3c3c3c" stroke-width="0.9" />
<line x1="543.3" y1="211" x2="543.3" y2="261.2" stroke="#3c3c3c" stroke-width="0.9" />
<path d="M543.3 240.4 L544.0 244.6 L542.5 244.6 Z" fill="#3c3c3c"/>
<path d="M543.3 261.2 L542.5 257.0 L544.0 257.0 Z" fill="#3c3c3c"/>
<text x="542.4" y="225.6" font-size="9.8" font-family='"Liberation Sans", "Noto Sans CJK SC", sans-serif' fill="#222" textLength="13.7" lengthAdjust="spacingAndGlyphs" transform="rotate(-90 542.4 225.6)" stroke="#222" stroke-width="0.3">3.50</text>
<line x1="541" y1="240.4" x2="553" y2="240.4" stroke="#3c3c3c" stroke-width="0.9" />
<line x1="541" y1="261.2" x2="553" y2="261.2" stroke="#3c3c3c" stroke-width="0.9" />
<line x1="657.7" y1="212" x2="657.7" y2="260.2" stroke="#3c3c3c" stroke-width="0.9" />
<path d="M657.7 241.3 L658.5 245.5 L657.0 245.5 Z" fill="#3c3c3c"/>
<path d="M657.7 260.2 L657.0 256.0 L658.5 256.0 Z" fill="#3c3c3c"/>
<text x="656.8000000000001" y="226.7" font-size="9.8" font-family='"Liberation Sans", "Noto Sans CJK SC", sans-serif' fill="#222" textLength="13.7" lengthAdjust="spacingAndGlyphs" transform="rotate(-90 656.8000000000001 226.7)" stroke="#222" stroke-width="0.3">3.05</text>
<line x1="645" y1="241.3" x2="660" y2="241.3" stroke="#3c3c3c" stroke-width="0.9" />
<line x1="645" y1="260.2" x2="660" y2="260.2" stroke="#3c3c3c" stroke-width="0.9" />
<line x1="509" y1="251" x2="552" y2="251" stroke="#3c3c3c" stroke-width="1.0" />
<line x1="599.1" y1="235" x2="599.1" y2="315" stroke="#3c3c3c" stroke-width="0.7" stroke-dasharray="9 2 1.5 2"/>
<line x1="555.8" y1="236.5" x2="555.8" y2="265.8" stroke="#3c3c3c" stroke-width="0.7" stroke-dasharray="3 1.5"/>
<rect x="553.2" y="240.2" width="5.2" height="22" rx="1.8" fill="#8e8e8e" stroke="#2e2e2e" stroke-width="1.1"/>
<line x1="555.8" y1="243.5" x2="555.8" y2="259.5" stroke="#f2f2f2" stroke-width="1.1" stroke-dasharray="3.2 2"/>
<line x1="563.7" y1="236.5" x2="563.7" y2="265.8" stroke="#3c3c3c" stroke-width="0.7" stroke-dasharray="3 1.5"/>
<rect x="561.1" y="240.2" width="5.2" height="22" rx="1.8" fill="#8e8e8e" stroke="#2e2e2e" stroke-width="1.1"/>
<line x1="563.7" y1="243.5" x2="563.7" y2="259.5" stroke="#f2f2f2" stroke-width="1.1" stroke-dasharray="3.2 2"/>
<line x1="634.5" y1="236.5" x2="634.5" y2="265.8" stroke="#3c3c3c" stroke-width="0.7" stroke-dasharray="3 1.5"/>
<rect x="631.9" y="240.2" width="5.2" height="22" rx="1.8" fill="#8e8e8e" stroke="#2e2e2e" stroke-width="1.1"/>
<line x1="634.5" y1="243.5" x2="634.5" y2="259.5" stroke="#f2f2f2" stroke-width="1.1" stroke-dasharray="3.2 2"/>
<line x1="642.4" y1="236.5" x2="642.4" y2="265.8" stroke="#3c3c3c" stroke-width="0.7" stroke-dasharray="3 1.5"/>
<rect x="639.8" y="240.2" width="5.2" height="22" rx="1.8" fill="#8e8e8e" stroke="#2e2e2e" stroke-width="1.1"/>
<line x1="642.4" y1="243.5" x2="642.4" y2="259.5" stroke="#f2f2f2" stroke-width="1.1" stroke-dasharray="3.2 2"/>
<line x1="577.0" y1="237" x2="577.0" y2="264" stroke="#3c3c3c" stroke-width="0.7" stroke-dasharray="3 1.5"/>
<rect x="574.9" y="241.2" width="4.2" height="19.2" rx="1.2" fill="#8e8e8e" stroke="#2e2e2e" stroke-width="1.0"/>
<line x1="577.0" y1="244" x2="577.0" y2="258.5" stroke="#f2f2f2" stroke-width="1.0" stroke-dasharray="3.2 2"/>
<line x1="583.314" y1="237" x2="583.314" y2="264" stroke="#3c3c3c" stroke-width="0.7" stroke-dasharray="3 1.5"/>
<rect x="581.2" y="241.2" width="4.2" height="19.2" rx="1.2" fill="#8e8e8e" stroke="#2e2e2e" stroke-width="1.0"/>
<line x1="583.314" y1="244" x2="583.314" y2="258.5" stroke="#f2f2f2" stroke-width="1.0" stroke-dasharray="3.2 2"/>
<line x1="589.628" y1="237" x2="589.628" y2="264" stroke="#3c3c3c" stroke-width="0.7" stroke-dasharray="3 1.5"/>
<rect x="587.5" y="241.2" width="4.2" height="19.2" rx="1.2" fill="#8e8e8e" stroke="#2e2e2e" stroke-width="1.0"/>
<line x1="589.628" y1="244" x2="589.628" y2="258.5" stroke="#f2f2f2" stroke-width="1.0" stroke-dasharray="3.2 2"/>
<line x1="595.942" y1="237" x2="595.942" y2="264" stroke="#3c3c3c" stroke-width="0.7" stroke-dasharray="3 1.5"/>
<rect x="593.8" y="241.2" width="4.2" height="19.2" rx="1.2" fill="#8e8e8e" stroke="#2e2e2e" stroke-width="1.0"/>
<line x1="595.942" y1="244" x2="595.942" y2="258.5" stroke="#f2f2f2" stroke-width="1.0" stroke-dasharray="3.2 2"/>
<line x1="602.256" y1="237" x2="602.256" y2="264" stroke="#3c3c3c" stroke-width="0.7" stroke-dasharray="3 1.5"/>
<rect x="600.2" y="241.2" width="4.2" height="19.2" rx="1.2" fill="#8e8e8e" stroke="#2e2e2e" stroke-width="1.0"/>
<line x1="602.256" y1="244" x2="602.256" y2="258.5" stroke="#f2f2f2" stroke-width="1.0" stroke-dasharray="3.2 2"/>
<line x1="608.57" y1="237" x2="608.57" y2="264" stroke="#3c3c3c" stroke-width="0.7" stroke-dasharray="3 1.5"/>
<rect x="606.5" y="241.2" width="4.2" height="19.2" rx="1.2" fill="#8e8e8e" stroke="#2e2e2e" stroke-width="1.0"/>
<line x1="608.57" y1="244" x2="608.57" y2="258.5" stroke="#f2f2f2" stroke-width="1.0" stroke-dasharray="3.2 2"/>
<line x1="614.884" y1="237" x2="614.884" y2="264" stroke="#3c3c3c" stroke-width="0.7" stroke-dasharray="3 1.5"/>
<rect x="612.8" y="241.2" width="4.2" height="19.2" rx="1.2" fill="#8e8e8e" stroke="#2e2e2e" stroke-width="1.0"/>
<line x1="614.884" y1="244" x2="614.884" y2="258.5" stroke="#f2f2f2" stroke-width="1.0" stroke-dasharray="3.2 2"/>
<line x1="621.198" y1="237" x2="621.198" y2="264" stroke="#3c3c3c" stroke-width="0.7" stroke-dasharray="3 1.5"/>
<rect x="619.1" y="241.2" width="4.2" height="19.2" rx="1.2" fill="#8e8e8e" stroke="#2e2e2e" stroke-width="1.0"/>
<line x1="621.198" y1="244" x2="621.198" y2="258.5" stroke="#f2f2f2" stroke-width="1.0" stroke-dasharray="3.2 2"/>
<line x1="552" y1="251" x2="627" y2="251" stroke="#3c3c3c" stroke-width="1.0" />
<text x="571.3" y="266.8" font-size="5.5" font-family='"Liberation Serif", "Noto Serif CJK SC", serif' fill="#666" >8</text>
<text x="624.8" y="266.8" font-size="5.5" font-family='"Liberation Serif", "Noto Serif CJK SC", serif' fill="#666" >1</text>
<circle cx="560.3" cy="312.4" r="10" fill="none" stroke="#2e2e2e" stroke-width="1"/>
<circle cx="638.5" cy="312.4" r="10" fill="none" stroke="#2e2e2e" stroke-width="1"/>
<path d="M551.5 300.5 H538 V324.6 H551.5" stroke="#2e2e2e" stroke-width="1.0" fill="none" />
<line x1="553.9" y1="300.5" x2="553.9" y2="304.6" stroke="#2e2e2e" stroke-width="1.0" />
<line x1="553.9" y1="320.2" x2="553.9" y2="324.6" stroke="#2e2e2e" stroke-width="1.0" />
<line x1="551.5" y1="300.5" x2="553.9" y2="300.5" stroke="#2e2e2e" stroke-width="1.0" />
<line x1="551.5" y1="324.6" x2="553.9" y2="324.6" stroke="#2e2e2e" stroke-width="1.0" />
<path d="M647.3 300.5 H660.8 V324.6 H647.3" stroke="#2e2e2e" stroke-width="1.0" fill="none" />
<line x1="644.8" y1="300.5" x2="644.8" y2="304.6" stroke="#2e2e2e" stroke-width="1.0" />
<line x1="644.8" y1="320.2" x2="644.8" y2="324.6" stroke="#2e2e2e" stroke-width="1.0" />
<line x1="644.8" y1="300.5" x2="647.3" y2="300.5" stroke="#2e2e2e" stroke-width="1.0" />
<line x1="644.8" y1="324.6" x2="647.3" y2="324.6" stroke="#2e2e2e" stroke-width="1.0" />
<line x1="509" y1="312.4" x2="533" y2="312.4" stroke="#3c3c3c" stroke-width="0.9" />
<line x1="535" y1="312.4" x2="573" y2="312.4" stroke="#3c3c3c" stroke-width="0.7" stroke-dasharray="9 2 1.5 2"/>
<line x1="626.5" y1="312.4" x2="663" y2="312.4" stroke="#3c3c3c" stroke-width="0.7" stroke-dasharray="9 2 1.5 2"/>
<line x1="560.3" y1="279" x2="560.3" y2="365" stroke="#3c3c3c" stroke-width="0.7" />
<line x1="638.5" y1="296.7" x2="638.5" y2="365" stroke="#3c3c3c" stroke-width="0.7" />
<line x1="546.1" y1="296.7" x2="546.1" y2="338.8" stroke="#3c3c3c" stroke-width="0.7" />
<line x1="652.7" y1="296" x2="652.7" y2="328.5" stroke="#3c3c3c" stroke-width="0.7" />
<line x1="538" y1="279.5" x2="576.5" y2="279.5" stroke="#3c3c3c" stroke-width="0.9" />
<path d="M560.3 279.5 L556.1 280.2 L556.1 278.8 Z" fill="#3c3c3c"/>
<path d="M576.5 279.5 L580.7 278.8 L580.7 280.2 Z" fill="#3c3c3c"/>
<text x="538" y="279.0" font-size="9.8" font-family='"Liberation Sans", "Noto Sans CJK SC", sans-serif' fill="#222" textLength="15.9" lengthAdjust="spacingAndGlyphs" stroke="#222" stroke-width="0.3">2.78</text>
<line x1="576.5" y1="266" x2="576.5" y2="281.5" stroke="#3c3c3c" stroke-width="0.9" />
<line x1="546.1" y1="337.2" x2="580.5" y2="337.2" stroke="#3c3c3c" stroke-width="0.9" />
<path d="M546.1 337.2 L541.9 337.9 L541.9 336.4 Z" fill="#3c3c3c"/>
<path d="M560.3 337.2 L564.5 336.4 L564.5 337.9 Z" fill="#3c3c3c"/>
<text x="565.8" y="336.7" font-size="9.8" font-family='"Liberation Sans", "Noto Sans CJK SC", sans-serif' fill="#222" textLength="14.2" lengthAdjust="spacingAndGlyphs" stroke="#222" stroke-width="0.3">2.31</text>
<line x1="624" y1="286.6" x2="660.8" y2="286.6" stroke="#3c3c3c" stroke-width="0.9" />
<path d="M644.8 286.6 L649.0 285.9 L649.0 287.4 Z" fill="#3c3c3c"/>
<path d="M660.8 286.6 L656.6 287.4 L656.6 285.9 Z" fill="#3c3c3c"/>
<text x="624" y="286.1" font-size="9.8" font-family='"Liberation Sans", "Noto Sans CJK SC", sans-serif' fill="#222" textLength="15.2" lengthAdjust="spacingAndGlyphs" stroke="#222" stroke-width="0.3">2.50</text>
<line x1="644.8" y1="284.5" x2="644.8" y2="300.5" stroke="#3c3c3c" stroke-width="0.9" />
<line x1="660.8" y1="284.5" x2="660.8" y2="300.5" stroke="#3c3c3c" stroke-width="0.9" />
<line x1="689.4" y1="278" x2="689.4" y2="324.6" stroke="#3c3c3c" stroke-width="0.9" />
<path d="M689.4 300.5 L690.1 304.7 L688.6 304.7 Z" fill="#3c3c3c"/>
<path d="M689.4 324.6 L688.6 320.4 L690.1 320.4 Z" fill="#3c3c3c"/>
<text x="688.5" y="294.2" font-size="9.8" font-family='"Liberation Sans", "Noto Sans CJK SC", sans-serif' fill="#222" textLength="15.2" lengthAdjust="spacingAndGlyphs" transform="rotate(-90 688.5 294.2)" stroke="#222" stroke-width="0.3">3.89</text>
<line x1="662.5" y1="300.5" x2="691.5" y2="300.5" stroke="#3c3c3c" stroke-width="0.9" />
<line x1="662.5" y1="324.6" x2="691.5" y2="324.6" stroke="#3c3c3c" stroke-width="0.9" />
<line x1="510.6" y1="251.1" x2="510.6" y2="312.4" stroke="#3c3c3c" stroke-width="0.9" />
<path d="M510.6 251.1 L511.4 255.3 L509.9 255.3 Z" fill="#3c3c3c"/>
<path d="M510.6 312.4 L509.9 308.2 L511.4 308.2 Z" fill="#3c3c3c"/>
<text x="509.70000000000005" y="289.1" font-size="9.8" font-family='"Liberation Sans", "Noto Sans CJK SC", sans-serif' fill="#222" textLength="15.2" lengthAdjust="spacingAndGlyphs" transform="rotate(-90 509.70000000000005 289.1)" stroke="#222" stroke-width="0.3">9.98</text>
<line x1="510.6" y1="312.4" x2="510.6" y2="349.1" stroke="#3c3c3c" stroke-width="0.9" />
<path d="M510.6 312.4 L511.4 316.6 L509.9 316.6 Z" fill="#3c3c3c"/>
<path d="M510.6 349.1 L509.9 344.9 L511.4 344.9 Z" fill="#3c3c3c"/>
<text x="509.70000000000005" y="338.5" font-size="9.8" font-family='"Liberation Sans", "Noto Sans CJK SC", sans-serif' fill="#222" textLength="15.2" lengthAdjust="spacingAndGlyphs" transform="rotate(-90 509.70000000000005 338.5)" stroke="#222" stroke-width="0.3">5.99</text>
<line x1="508.5" y1="349.1" x2="522.8" y2="349.1" stroke="#3c3c3c" stroke-width="0.9" />
<line x1="522.8" y1="363.3" x2="560.3" y2="363.3" stroke="#3c3c3c" stroke-width="0.9" />
<path d="M522.8 363.3 L527.0 362.6 L527.0 364.1 Z" fill="#3c3c3c"/>
<path d="M560.3 363.3 L556.1 364.1 L556.1 362.6 Z" fill="#3c3c3c"/>
<text x="534.2" y="362.8" font-size="9.8" font-family='"Liberation Sans", "Noto Sans CJK SC", sans-serif' fill="#222" textLength="15.2" lengthAdjust="spacingAndGlyphs" stroke="#222" stroke-width="0.3">5.99</text>
<line x1="522.8" y1="349.1" x2="522.8" y2="365.3" stroke="#3c3c3c" stroke-width="0.9" />
<line x1="560.3" y1="363.3" x2="638.5" y2="363.3" stroke="#3c3c3c" stroke-width="0.9" />
<path d="M560.3 363.3 L564.5 362.6 L564.5 364.1 Z" fill="#3c3c3c"/>
<path d="M638.5 363.3 L634.3 364.1 L634.3 362.6 Z" fill="#3c3c3c"/>
<text x="589.9" y="362.8" font-size="9.8" font-family='"Liberation Sans", "Noto Sans CJK SC", sans-serif' fill="#222" textLength="18.5" lengthAdjust="spacingAndGlyphs" stroke="#222" stroke-width="0.3">12.70</text>
<line x1="653.2" y1="300" x2="602.5" y2="337.2" stroke="#3c3c3c" stroke-width="0.9" />
<path d="M646.6 304.9 L643.7 308.0 L642.8 306.8 Z" fill="#3c3c3c"/>
<text x="604.5" y="336.5" font-size="9.8" font-family='"Liberation Sans", "Noto Sans CJK SC", sans-serif' fill="#222" stroke="#222" stroke-width="0.3" textLength="21.5" lengthAdjust="spacingAndGlyphs" transform="rotate(-36.3 604.5 336.5)">ø3.25</text>
<text x="537.2" y="382.8" font-size="9.4" font-family='"DejaVu Sans Mono", "Liberation Mono", monospace' fill="#333" textLength="120.1" lengthAdjust="spacingAndGlyphs" >Recommend PCB Layout</text>
<text x="552.4" y="392.3" font-size="9.4" font-family='"DejaVu Sans Mono", "Liberation Mono", monospace' fill="#333" textLength="85.1" lengthAdjust="spacingAndGlyphs" >(Jack Top View)</text>
<line x1="552.4" y1="393.6" x2="637.5" y2="393.6" stroke="#3c3c3c" stroke-width="0.7" />
<line x1="548.4" y1="395.6" x2="639.5" y2="395.6" stroke="#3c3c3c" stroke-width="0.7" />
<text x="550.4" y="403.5" font-size="9.6" font-family='"DejaVu Sans Mono", "Liberation Mono", monospace' fill="#333" textLength="86.1" lengthAdjust="spacingAndGlyphs" >TOLERANCES:±0.05</text>
<line x1="107.6" y1="376" x2="223.1" y2="376" stroke="#3c3c3c" stroke-width="0.9" />
<path d="M107.6 376.0 L111.8 375.2 L111.8 376.8 Z" fill="#3c3c3c"/>
<path d="M223.1 376.0 L218.9 376.8 L218.9 375.2 Z" fill="#3c3c3c"/>
<text x="156.1" y="375.5" font-size="9.8" font-family='"Liberation Sans", "Noto Sans CJK SC", sans-serif' fill="#222" textLength="18.3" lengthAdjust="spacingAndGlyphs" stroke="#222" stroke-width="0.3">18.80</text>
<line x1="107.6" y1="373.8" x2="107.6" y2="437.5" stroke="#3c3c3c" stroke-width="0.9" />
<line x1="223.1" y1="373.8" x2="223.1" y2="437.5" stroke="#3c3c3c" stroke-width="0.9" />
<line x1="125.8" y1="388" x2="204.9" y2="388" stroke="#3c3c3c" stroke-width="0.9" />
<path d="M125.8 388.0 L130.0 387.2 L130.0 388.8 Z" fill="#3c3c3c"/>
<path d="M204.9 388.0 L200.7 388.8 L200.7 387.2 Z" fill="#3c3c3c"/>
<text x="156.1" y="387.5" font-size="9.8" font-family='"Liberation Sans", "Noto Sans CJK SC", sans-serif' fill="#222" textLength="18.3" lengthAdjust="spacingAndGlyphs" stroke="#222" stroke-width="0.3">12.70</text>
<line x1="125.8" y1="385.8" x2="125.8" y2="412" stroke="#3c3c3c" stroke-width="0.7" stroke-dasharray="12 2 6 2"/>
<line x1="204.9" y1="385.8" x2="204.9" y2="412" stroke="#3c3c3c" stroke-width="0.7" stroke-dasharray="12 2 6 2"/>
<line x1="96.9" y1="401" x2="96.9" y2="437.4" stroke="#3c3c3c" stroke-width="0.9" />
<path d="M96.9 422.5 L97.7 426.7 L96.2 426.7 Z" fill="#3c3c3c"/>
<path d="M96.9 437.4 L96.2 433.2 L97.7 433.2 Z" fill="#3c3c3c"/>
<text x="95.6" y="415.8" font-size="9.8" font-family='"Liberation Sans", "Noto Sans CJK SC", sans-serif' fill="#222" textLength="13.7" lengthAdjust="spacingAndGlyphs" transform="rotate(-90 95.6 415.8)" stroke="#222" stroke-width="0.3">2.50</text>
<line x1="94.8" y1="422.5" x2="114" y2="422.5" stroke="#3c3c3c" stroke-width="0.9" />
<line x1="94.8" y1="437.4" x2="114" y2="437.4" stroke="#3c3c3c" stroke-width="0.9" />
<line x1="165.2" y1="390" x2="165.2" y2="504" stroke="#3c3c3c" stroke-width="0.7" stroke-dasharray="9 2 1.5 2"/>
<line x1="114" y1="397" x2="215.8" y2="397" stroke="#2e2e2e" stroke-width="1.8" />
<line x1="116" y1="402.7" x2="214" y2="402.7" stroke="#2e2e2e" stroke-width="1.5" />
<line x1="114.8" y1="396.5" x2="114.8" y2="491.5" stroke="#2e2e2e" stroke-width="1.7" />
<line x1="215" y1="396.5" x2="215" y2="491.5" stroke="#2e2e2e" stroke-width="1.7" />
<line x1="117.3" y1="403" x2="117.3" y2="473" stroke="#2e2e2e" stroke-width="0.8" />
<line x1="212.5" y1="403" x2="212.5" y2="473" stroke="#2e2e2e" stroke-width="0.8" />
<line x1="124.6" y1="438.7" x2="124.6" y2="473.2" stroke="#2e2e2e" stroke-width="0.8" />
<line x1="205.2" y1="438.7" x2="205.2" y2="473.2" stroke="#2e2e2e" stroke-width="0.8" />
<path d="M124.4 396.8 Q131.5 391.8 139 396.8" stroke="#2e2e2e" stroke-width="0.8" fill="none" />
<path d="M190.8 396.8 Q198.3 391.8 205.4 396.8" stroke="#2e2e2e" stroke-width="0.8" fill="none" />
<path d="M138.9 467 V411 L140.4 409.5 H189.4 L190.9 411 V467" stroke="#2e2e2e" stroke-width="1.7" fill="none" />
<path d="M141 466 V412 H188.8 V466" stroke="#2e2e2e" stroke-width="0.7" fill="none" />
<rect x="107.2" y="422.5" width="6.6" height="14.9" stroke="#2e2e2e" stroke-width="0.9" fill="none" />
<rect x="216" y="422.5" width="6.6" height="14.9" stroke="#2e2e2e" stroke-width="0.9" fill="none" />
<line x1="110.6" y1="422.5" x2="110.6" y2="437.4" stroke="#2e2e2e" stroke-width="0.6" />
<line x1="219.2" y1="422.5" x2="219.2" y2="437.4" stroke="#2e2e2e" stroke-width="0.6" />
<path d="M126.7 420.4 V438.7 A10.6 9.15 0 0 1 126.7 420.4 Z" stroke="#2e2e2e" stroke-width="1.6" fill="none" />
<path d="M203.1 420.4 V438.7 A10.6 9.15 0 0 0 203.1 420.4 Z" stroke="#2e2e2e" stroke-width="1.6" fill="none" />
<rect x="124.4" y="411.5" width="2.3" height="8.9" stroke="#2e2e2e" stroke-width="0.8" fill="none" />
<rect x="203.1" y="411.5" width="2.3" height="8.9" stroke="#2e2e2e" stroke-width="0.8" fill="none" />
<line x1="126.7" y1="428.7" x2="138.9" y2="428.7" stroke="#2e2e2e" stroke-width="0.8" />
<line x1="190.9" y1="428.7" x2="203.1" y2="428.7" stroke="#2e2e2e" stroke-width="0.8" />
<rect x="115.4" y="460.6" width="5.8" height="6.0" stroke="#2e2e2e" stroke-width="0.9" fill="none" />
<rect x="208.6" y="460.6" width="5.8" height="6.0" stroke="#2e2e2e" stroke-width="0.9" fill="none" />
<line x1="120.2" y1="473.2" x2="209.6" y2="473.2" stroke="#2e2e2e" stroke-width="0.9" />
<line x1="120.2" y1="473.2" x2="120.2" y2="491.5" stroke="#2e2e2e" stroke-width="0.9" />
<line x1="209.6" y1="473.2" x2="209.6" y2="491.5" stroke="#2e2e2e" stroke-width="0.9" />
<line x1="136.4" y1="473.2" x2="133.9" y2="491.5" stroke="#2e2e2e" stroke-width="0.7" />
<line x1="193.4" y1="473.2" x2="195.9" y2="491.5" stroke="#2e2e2e" stroke-width="0.7" />
<line x1="114" y1="491.5" x2="139" y2="491.5" stroke="#2e2e2e" stroke-width="1.6" />
<line x1="191" y1="491.5" x2="215.8" y2="491.5" stroke="#2e2e2e" stroke-width="1.6" />
<line x1="139" y1="491.5" x2="191" y2="491.5" stroke="#2e2e2e" stroke-width="0.8" />
<line x1="138.9" y1="467" x2="190.9" y2="467" stroke="#2e2e2e" stroke-width="1.5" />
<rect x="141.10" y="466" width="3.6" height="31.5" fill="#777" stroke="#333" stroke-width="0.6"/>
<rect x="141.10" y="467" width="3.6" height="5.5" fill="#444"/>
<rect x="142.30" y="478.5" width="1.2" height="1.6" fill="#eee"/><rect x="142.30" y="484" width="1.2" height="1.6" fill="#eee"/>
<path d="M141.10 497.5 L142.90 500.5 L144.70 497.5 Z" fill="#555"/>
<line x1="142.9" y1="463.5" x2="142.9" y2="466" stroke="#2e2e2e" stroke-width="0.8" />
<rect x="147.39" y="466" width="3.6" height="31.5" fill="#777" stroke="#333" stroke-width="0.6"/>
<rect x="147.39" y="467" width="3.6" height="5.5" fill="#444"/>
<rect x="148.59" y="478.5" width="1.2" height="1.6" fill="#eee"/><rect x="148.59" y="484" width="1.2" height="1.6" fill="#eee"/>
<path d="M147.39 497.5 L149.19 500.5 L150.99 497.5 Z" fill="#555"/>
<line x1="149.186" y1="463.5" x2="149.186" y2="466" stroke="#2e2e2e" stroke-width="0.8" />
<rect x="153.67" y="466" width="3.6" height="31.5" fill="#777" stroke="#333" stroke-width="0.6"/>
<rect x="153.67" y="467" width="3.6" height="5.5" fill="#444"/>
<rect x="154.87" y="478.5" width="1.2" height="1.6" fill="#eee"/><rect x="154.87" y="484" width="1.2" height="1.6" fill="#eee"/>
<path d="M153.67 497.5 L155.47 500.5 L157.27 497.5 Z" fill="#555"/>
<line x1="155.472" y1="463.5" x2="155.472" y2="466" stroke="#2e2e2e" stroke-width="0.8" />
<rect x="159.96" y="466" width="3.6" height="31.5" fill="#777" stroke="#333" stroke-width="0.6"/>
<rect x="159.96" y="467" width="3.6" height="5.5" fill="#444"/>
<rect x="161.16" y="478.5" width="1.2" height="1.6" fill="#eee"/><rect x="161.16" y="484" width="1.2" height="1.6" fill="#eee"/>
<path d="M159.96 497.5 L161.76 500.5 L163.56 497.5 Z" fill="#555"/>
<line x1="161.758" y1="463.5" x2="161.758" y2="466" stroke="#2e2e2e" stroke-width="0.8" />
<rect x="166.24" y="466" width="3.6" height="31.5" fill="#777" stroke="#333" stroke-width="0.6"/>
<rect x="166.24" y="467" width="3.6" height="5.5" fill="#444"/>
<rect x="167.44" y="478.5" width="1.2" height="1.6" fill="#eee"/><rect x="167.44" y="484" width="1.2" height="1.6" fill="#eee"/>
<path d="M166.24 497.5 L168.04 500.5 L169.84 497.5 Z" fill="#555"/>
<line x1="168.044" y1="463.5" x2="168.044" y2="466" stroke="#2e2e2e" stroke-width="0.8" />
<rect x="172.53" y="466" width="3.6" height="31.5" fill="#777" stroke="#333" stroke-width="0.6"/>
<rect x="172.53" y="467" width="3.6" height="5.5" fill="#444"/>
<rect x="173.73" y="478.5" width="1.2" height="1.6" fill="#eee"/><rect x="173.73" y="484" width="1.2" height="1.6" fill="#eee"/>
<path d="M172.53 497.5 L174.33 500.5 L176.13 497.5 Z" fill="#555"/>
<line x1="174.33" y1="463.5" x2="174.33" y2="466" stroke="#2e2e2e" stroke-width="0.8" />
<rect x="178.82" y="466" width="3.6" height="31.5" fill="#777" stroke="#333" stroke-width="0.6"/>
<rect x="178.82" y="467" width="3.6" height="5.5" fill="#444"/>
<rect x="180.02" y="478.5" width="1.2" height="1.6" fill="#eee"/><rect x="180.02" y="484" width="1.2" height="1.6" fill="#eee"/>
<path d="M178.82 497.5 L180.62 500.5 L182.42 497.5 Z" fill="#555"/>
<line x1="180.61599999999999" y1="463.5" x2="180.61599999999999" y2="466" stroke="#2e2e2e" stroke-width="0.8" />
<rect x="185.10" y="466" width="3.6" height="31.5" fill="#777" stroke="#333" stroke-width="0.6"/>
<rect x="185.10" y="467" width="3.6" height="5.5" fill="#444"/>
<rect x="186.30" y="478.5" width="1.2" height="1.6" fill="#eee"/><rect x="186.30" y="484" width="1.2" height="1.6" fill="#eee"/>
<path d="M185.10 497.5 L186.90 500.5 L188.70 497.5 Z" fill="#555"/>
<line x1="186.902" y1="463.5" x2="186.902" y2="466" stroke="#2e2e2e" stroke-width="0.8" />
<rect x="120.40" y="482" width="3" height="16.5" rx="1.2" fill="#888" stroke="#333" stroke-width="0.6"/>
<line x1="121.9" y1="477.5" x2="121.9" y2="482" stroke="#2e2e2e" stroke-width="0.7" />
<line x1="121.9" y1="498.5" x2="121.9" y2="501" stroke="#2e2e2e" stroke-width="0.7" />
<rect x="128.20" y="482" width="3" height="16.5" rx="1.2" fill="#888" stroke="#333" stroke-width="0.6"/>
<line x1="129.7" y1="477.5" x2="129.7" y2="482" stroke="#2e2e2e" stroke-width="0.7" />
<line x1="129.7" y1="498.5" x2="129.7" y2="501" stroke="#2e2e2e" stroke-width="0.7" />
<rect x="198.80" y="482" width="3" height="16.5" rx="1.2" fill="#888" stroke="#333" stroke-width="0.6"/>
<line x1="200.3" y1="477.5" x2="200.3" y2="482" stroke="#2e2e2e" stroke-width="0.7" />
<line x1="200.3" y1="498.5" x2="200.3" y2="501" stroke="#2e2e2e" stroke-width="0.7" />
<rect x="206.80" y="482" width="3" height="16.5" rx="1.2" fill="#888" stroke="#333" stroke-width="0.6"/>
<line x1="208.3" y1="477.5" x2="208.3" y2="482" stroke="#2e2e2e" stroke-width="0.7" />
<line x1="208.3" y1="498.5" x2="208.3" y2="501" stroke="#2e2e2e" stroke-width="0.7" />
<line x1="102.6" y1="482" x2="102.6" y2="522" stroke="#3c3c3c" stroke-width="0.9" />
<path d="M102.6 492.4 L101.8 488.2 L103.3 488.2 Z" fill="#3c3c3c"/>
<path d="M102.6 496.2 L103.3 500.4 L101.8 500.4 Z" fill="#3c3c3c"/>
<text x="101.4" y="521.6" font-size="9.8" font-family='"Liberation Sans", "Noto Sans CJK SC", sans-serif' fill="#222" textLength="14.4" lengthAdjust="spacingAndGlyphs" transform="rotate(-90 101.4 521.6)" stroke="#222" stroke-width="0.3">0.75</text>
<line x1="101" y1="492.4" x2="139.4" y2="492.4" stroke="#3c3c3c" stroke-width="0.9" />
<line x1="101" y1="496.2" x2="139.4" y2="496.2" stroke="#3c3c3c" stroke-width="0.9" />
<line x1="170.3" y1="512.5" x2="231.8" y2="512.5" stroke="#3c3c3c" stroke-width="0.9" />
<path d="M181.0 512.5 L176.8 513.2 L176.8 511.8 Z" fill="#3c3c3c"/>
<path d="M186.9 512.5 L191.1 511.8 L191.1 513.2 Z" fill="#3c3c3c"/>
<text x="218.1" y="512.0" font-size="9.8" font-family='"Liberation Sans", "Noto Sans CJK SC", sans-serif' fill="#222" textLength="13.2" lengthAdjust="spacingAndGlyphs" stroke="#222" stroke-width="0.3">1.02</text>
<line x1="181" y1="501.5" x2="181" y2="514.3" stroke="#3c3c3c" stroke-width="0.9" />
<line x1="186.9" y1="501.5" x2="186.9" y2="521.5" stroke="#3c3c3c" stroke-width="0.9" />
<line x1="142.9" y1="519.7" x2="186.9" y2="519.7" stroke="#3c3c3c" stroke-width="0.9" />
<path d="M142.9 519.7 L147.1 519.0 L147.1 520.5 Z" fill="#3c3c3c"/>
<path d="M186.9 519.7 L182.7 520.5 L182.7 519.0 Z" fill="#3c3c3c"/>
<text x="158.4" y="519.2" font-size="9.8" font-family='"Liberation Sans", "Noto Sans CJK SC", sans-serif' fill="#222" textLength="13.0" lengthAdjust="spacingAndGlyphs" stroke="#222" stroke-width="0.3">7.14</text>
<line x1="142.9" y1="501.5" x2="142.9" y2="521.5" stroke="#3c3c3c" stroke-width="0.9" />
<line x1="189.6" y1="522" x2="231.8" y2="522" stroke="#3c3c3c" stroke-width="0.9" />
<path d="M200.3 522.0 L196.1 522.8 L196.1 521.2 Z" fill="#3c3c3c"/>
<path d="M208.3 522.0 L212.5 521.2 L212.5 522.8 Z" fill="#3c3c3c"/>
<text x="218.1" y="521.5" font-size="9.8" font-family='"Liberation Sans", "Noto Sans CJK SC", sans-serif' fill="#222" textLength="13.2" lengthAdjust="spacingAndGlyphs" stroke="#222" stroke-width="0.3">1.27</text>
<line x1="200.3" y1="502" x2="200.3" y2="523.8" stroke="#3c3c3c" stroke-width="0.9" />
<line x1="208.3" y1="502" x2="208.3" y2="538.6" stroke="#3c3c3c" stroke-width="0.9" />
<line x1="121.9" y1="536.8" x2="208.3" y2="536.8" stroke="#3c3c3c" stroke-width="0.9" />
<path d="M121.9 536.8 L126.1 536.0 L126.1 537.5 Z" fill="#3c3c3c"/>
<path d="M208.3 536.8 L204.1 537.5 L204.1 536.0 Z" fill="#3c3c3c"/>
<text x="156.1" y="536.3" font-size="9.8" font-family='"Liberation Sans", "Noto Sans CJK SC", sans-serif' fill="#222" textLength="18.7" lengthAdjust="spacingAndGlyphs" stroke="#222" stroke-width="0.3">13.95</text>
<line x1="121.9" y1="502" x2="121.9" y2="538.6" stroke="#3c3c3c" stroke-width="0.9" />
<path d="M308.4 466.3 V422.9 L364.9 389.9 L424.4 423.8 Q425.4 424.2 425.4 425.6 V478.6" stroke="#2e2e2e" stroke-width="1.1" fill="none" />
<line x1="363.6" y1="390.7" x2="363.6" y2="444.3" stroke="#2e2e2e" stroke-width="0.9" />
<line x1="366.8" y1="391.2" x2="366.8" y2="445.6" stroke="#2e2e2e" stroke-width="0.9" />
<rect x="364" y="391.5" width="2.5" height="53" fill="#ccc"/>
<path d="M318.6 416.9 L321.6 415.2 V459 L318.6 460.7 Z" fill="#555" stroke="#2e2e2e" stroke-width="0.6"/>
<line x1="308.2" y1="466.5" x2="321.9" y2="458.6" stroke="#2e2e2e" stroke-width="1.8" />
<path d="M311 447 L315.4 444.6 V455.6 L311 458 Z" stroke="#2e2e2e" stroke-width="1.6" fill="none" stroke-linejoin="round"/>
<path d="M308.6 466.5 L309.3 473.5 L313 475.4" stroke="#2e2e2e" stroke-width="0.9" fill="none" />
<line x1="321.9" y1="459" x2="321.9" y2="468.5" stroke="#2e2e2e" stroke-width="0.9" />
<line x1="309.3" y1="473.5" x2="322" y2="466.2" stroke="#2e2e2e" stroke-width="0.8" />
<line x1="311" y1="470" x2="322" y2="463.6" stroke="#2e2e2e" stroke-width="0.7" />
<line x1="364.4" y1="444.7" x2="322.2" y2="469.3" stroke="#2e2e2e" stroke-width="1.6" />
<line x1="365.9" y1="448.3" x2="327.0" y2="471.8" stroke="#2e2e2e" stroke-width="0.7" />
<path d="M367.4 394.3 L422.4 426.3 V476" stroke="#2e2e2e" stroke-width="1.6" fill="none" />
<line x1="367.4" y1="394.3" x2="367.4" y2="444" stroke="#2e2e2e" stroke-width="0.8" />
<path d="M368 395 V404.5 Q373 404 381 412.5 V402.5" stroke="#2e2e2e" stroke-width="1.0" fill="none" />
<path d="M367.8 404.2 Q375.5 404.4 381.2 411.6" stroke="#2e2e2e" stroke-width="1.9" fill="none" />
<path d="M368 406.6 L382 414.8" stroke="#2e2e2e" stroke-width="1.5" fill="none" />
<path d="M381 403 L384 404.8 V415.5 L381 413.5" stroke="#2e2e2e" stroke-width="0.9" fill="none" />
<line x1="384" y1="405" x2="386.2" y2="406.2" stroke="#2e2e2e" stroke-width="0.8" />
<line x1="386.2" y1="406.2" x2="386.2" y2="411" stroke="#2e2e2e" stroke-width="0.8" />
<path d="M406.2 418.6 V428.5 Q412 428 421.5 436 " stroke="#2e2e2e" stroke-width="1.0" fill="none" />
<path d="M406.6 427.2 Q414.5 427.6 421.4 434.6" stroke="#2e2e2e" stroke-width="1.9" fill="none" />
<path d="M406.4 429.8 L421.8 438.6" stroke="#2e2e2e" stroke-width="1.5" fill="none" />
<path d="M406.2 419 L403 417.2 V427.5 L406.2 429.4" stroke="#2e2e2e" stroke-width="0.9" fill="none" />
<path d="M395.9 424.3 L399.5 418.8 L403 417.2 M395.9 424.3 V421 L399.2 415.6 L402.6 417.4 M399.5 418.8 V426.4 L395.9 424.3 M399.5 426.4 L403.6 424" stroke="#2e2e2e" stroke-width="0.8" fill="none" />
<line x1="371.6" y1="409.6" x2="371.6" y2="439.6" stroke="#2e2e2e" stroke-width="0.9" />
<line x1="371.6" y1="439.6" x2="417" y2="466.9" stroke="#2e2e2e" stroke-width="1.0" />
<line x1="372.8" y1="421.9" x2="381.6" y2="416.5" stroke="#2e2e2e" stroke-width="0.8" />
<line x1="372.8" y1="437.1" x2="395.9" y2="424.3" stroke="#2e2e2e" stroke-width="0.8" />
<line x1="381.1" y1="444" x2="406.2" y2="429.7" stroke="#2e2e2e" stroke-width="0.8" />
<line x1="391.5" y1="450.4" x2="414.1" y2="437.1" stroke="#2e2e2e" stroke-width="0.8" />
<line x1="372.4" y1="414.5" x2="372.4" y2="420.5" stroke="#2e2e2e" stroke-width="1.2" />
<line x1="416.5" y1="436.4" x2="416.5" y2="466.4" stroke="#2e2e2e" stroke-width="0.8" />
<line x1="418.7" y1="437.7" x2="418.7" y2="467.6" stroke="#2e2e2e" stroke-width="0.8" />
<rect x="416.8" y="447.5" width="1.7" height="8.5" fill="#888"/>
<path d="M399.3 454.6 L416.5 446.6 M403 457 L416.5 456.4 M403 451.8 V457 M399.3 454.6 L403 457" stroke="#2e2e2e" stroke-width="0.8" fill="none" />
<path d="M406.2 458.6 L416.5 453" stroke="#2e2e2e" stroke-width="0.8" fill="none" />
<line x1="364.4" y1="444.7" x2="423.5" y2="479.2" stroke="#2e2e2e" stroke-width="1.2" />
<line x1="365.3" y1="447.1" x2="424.2" y2="481.5" stroke="#2e2e2e" stroke-width="0.6" />
<line x1="366.1" y1="449.4" x2="424.8" y2="483.7" stroke="#2e2e2e" stroke-width="0.6" />
<line x1="366.8" y1="451.5" x2="425.4" y2="485.7" stroke="#2e2e2e" stroke-width="0.9" />
<path d="M372.4 458.4 L402.6 476.1 L369.0 495.2 L339.8 477.8 Z" stroke="#2e2e2e" stroke-width="0.9" fill="none" />
<line x1="339.8" y1="477.8" x2="331.5" y2="473.2" stroke="#2e2e2e" stroke-width="0.8" />
<line x1="357.8" y1="462.6" x2="372.4" y2="454.6" stroke="#2e2e2e" stroke-width="0.7" />
<line x1="402.6" y1="476.1" x2="409.5" y2="479.8" stroke="#2e2e2e" stroke-width="0.7" />
<line x1="366" y1="449.8" x2="409.5" y2="475.2" stroke="#2e2e2e" stroke-width="0.8" />
<line x1="409.5" y1="475.2" x2="400.5" y2="480.4" stroke="#2e2e2e" stroke-width="0.8" />
<line x1="368.6" y1="495.4" x2="374.5" y2="498.8" stroke="#2e2e2e" stroke-width="0.8" />
<line x1="374.5" y1="498.8" x2="392.5" y2="488.4" stroke="#2e2e2e" stroke-width="0.8" />
<line x1="373.5" y1="496.6" x2="390.5" y2="486.8" stroke="#2e2e2e" stroke-width="0.7" />
<line x1="392.5" y1="488.4" x2="395.5" y2="486.6" stroke="#2e2e2e" stroke-width="0.8" />
<line x1="425.4" y1="478.6" x2="421.5" y2="481" stroke="#2e2e2e" stroke-width="0.9" />
<line x1="424" y1="481.5" x2="414" y2="487.4" stroke="#2e2e2e" stroke-width="0.8" />
<path d="M393.4 492.9 Q396 499.5 402 498.6 Q407 497.6 409.4 494.6 L414 491.6 L410.8 489 L407.4 490.8" stroke="#2e2e2e" stroke-width="0.9" fill="none" />
<path d="M393.4 492.9 Q394.5 489.5 399 487.6 L404.6 486.2" stroke="#2e2e2e" stroke-width="0.9" fill="none" />
<path d="M404.6 492.6 V485.4 L407.2 484 V491" stroke="#2e2e2e" stroke-width="0.8" fill="none" />
<path d="M404.6 485.4 L407.4 481.6 L409.8 480.4 L407.2 484" stroke="#2e2e2e" stroke-width="0.8" fill="none" />
<path d="M394.5 493.5 Q400 490.5 404.6 492.6 Q407 493 409.4 494.6" stroke="#2e2e2e" stroke-width="0.8" fill="none" />
<path d="M336.6 457.2 L344.6 452.5 Q346.3 451.8 346.8 453.2 Q347.2 454.4 345.6 455.3 L337.6 460 Q335.8 460.7 335.5 459.4 Q335.3 458 336.6 457.2 Z" stroke="#2e2e2e" stroke-width="1.0" fill="none" />
<path d="M345.2 462.5 Q344.2 455.8 350 452.8 Q355.8 450.4 357.6 455.2 L357.8 462.5 M345.2 462.5 V467 Q346.2 471.5 351.6 469.2 Q356.8 466.6 357.8 462.5 Q352 461 345.4 467" stroke="#2e2e2e" stroke-width="0.9" fill="none" />
<path d="M357.6 456.4 L362.2 453.7 M357.8 458.8 L363 455.8 M362.2 453.7 L363 455.8" stroke="#2e2e2e" stroke-width="0.9" fill="none" />
<line x1="322" y1="466.2" x2="336" y2="458.2" stroke="#2e2e2e" stroke-width="0.8" />
<line x1="326" y1="468.5" x2="345" y2="457.6" stroke="#2e2e2e" stroke-width="0.7" />
<path d="M323 464 L325.6 462.5 L328.4 464.2 L325.8 465.8 Z M326.6 461.2 L328.6 460 L330.6 461.4 L328.6 462.6 Z" stroke="#2e2e2e" stroke-width="0.8" fill="none" />
<path d="M327 458.5 L329.4 457.2 L331 462 L328.8 463.2 Z" fill="#444"/>
<path d="M319.6 473.6 L306.6 481.4 L308.8 484.6 L321.8 476.8 Z" stroke="#2e2e2e" stroke-width="0.8" fill="#fff" />
<line x1="320.7" y1="475.2" x2="307.7" y2="483.0" stroke="#2e2e2e" stroke-width="0.6" />
<path d="M324.2 477.2 L311.2 485.0 L313.4 488.2 L326.4 480.4 Z" stroke="#2e2e2e" stroke-width="0.8" fill="#fff" />
<line x1="325.3" y1="478.8" x2="312.3" y2="486.6" stroke="#2e2e2e" stroke-width="0.6" />
<path d="M315.5 471.5 Q318.5 470.3 319.5 473 L319.8 478 M322.6 470.2 Q324.6 472 324.4 476.6 M317.4 472.6 L318 477.6 L321.5 473.6 L322.6 478" stroke="#2e2e2e" stroke-width="0.8" fill="none" />
<path d="M336.3 480.5 L321.0 489.5 L322.3 491.1 L337.6 482.1 Z" stroke="#2e2e2e" stroke-width="0.7" fill="#999" />
<line x1="338.2" y1="482.6" x2="322.9" y2="491.6" stroke="#2e2e2e" stroke-width="0.6" />
<path d="M337.3 480.1 q1.6 -3 3.2 -1.2 q1 1.6 -1 3" stroke="#2e2e2e" stroke-width="0.7" fill="none" />
<path d="M340.3 482.8 L325.0 491.8 L326.3 493.4 L341.6 484.4 Z" stroke="#2e2e2e" stroke-width="0.7" fill="#999" />
<line x1="342.2" y1="484.9" x2="326.9" y2="493.9" stroke="#2e2e2e" stroke-width="0.6" />
<path d="M341.3 482.4 q1.6 -3 3.2 -1.2 q1 1.6 -1 3" stroke="#2e2e2e" stroke-width="0.7" fill="none" />
<path d="M344.3 485.2 L329.0 494.2 L330.3 495.8 L345.6 486.8 Z" stroke="#2e2e2e" stroke-width="0.7" fill="#999" />
<line x1="346.2" y1="487.3" x2="330.9" y2="496.3" stroke="#2e2e2e" stroke-width="0.6" />
<path d="M345.3 484.8 q1.6 -3 3.2 -1.2 q1 1.6 -1 3" stroke="#2e2e2e" stroke-width="0.7" fill="none" />
<path d="M348.3 487.5 L333.0 496.5 L334.3 498.1 L349.6 489.1 Z" stroke="#2e2e2e" stroke-width="0.7" fill="#999" />
<line x1="350.2" y1="489.6" x2="334.9" y2="498.6" stroke="#2e2e2e" stroke-width="0.6" />
<path d="M349.3 487.1 q1.6 -3 3.2 -1.2 q1 1.6 -1 3" stroke="#2e2e2e" stroke-width="0.7" fill="none" />
<path d="M352.2 489.8 L336.9 498.8 L338.2 500.4 L353.5 491.4 Z" stroke="#2e2e2e" stroke-width="0.7" fill="#999" />
<line x1="354.1" y1="491.9" x2="338.8" y2="500.9" stroke="#2e2e2e" stroke-width="0.6" />
<path d="M353.2 489.4 q1.6 -3 3.2 -1.2 q1 1.6 -1 3" stroke="#2e2e2e" stroke-width="0.7" fill="none" />
<path d="M356.2 492.1 L340.9 501.1 L342.2 502.7 L357.5 493.7 Z" stroke="#2e2e2e" stroke-width="0.7" fill="#999" />
<line x1="358.1" y1="494.2" x2="342.8" y2="503.2" stroke="#2e2e2e" stroke-width="0.6" />
<path d="M357.2 491.7 q1.6 -3 3.2 -1.2 q1 1.6 -1 3" stroke="#2e2e2e" stroke-width="0.7" fill="none" />
<path d="M360.2 494.5 L344.9 503.5 L346.2 505.1 L361.5 496.1 Z" stroke="#2e2e2e" stroke-width="0.7" fill="#999" />
<line x1="362.1" y1="496.6" x2="346.8" y2="505.6" stroke="#2e2e2e" stroke-width="0.6" />
<path d="M361.2 494.1 q1.6 -3 3.2 -1.2 q1 1.6 -1 3" stroke="#2e2e2e" stroke-width="0.7" fill="none" />
<path d="M364.2 496.8 L348.9 505.8 L350.2 507.4 L365.5 498.4 Z" stroke="#2e2e2e" stroke-width="0.7" fill="#999" />
<line x1="366.1" y1="498.9" x2="350.8" y2="507.9" stroke="#2e2e2e" stroke-width="0.6" />
<path d="M365.2 496.4 q1.6 -3 3.2 -1.2 q1 1.6 -1 3" stroke="#2e2e2e" stroke-width="0.7" fill="none" />
<path d="M363.2 500.8 L351.8 507.8 L354.0 511.0 L365.4 504.0 Z" stroke="#2e2e2e" stroke-width="0.8" fill="#fff" />
<line x1="364.3" y1="502.4" x2="352.9" y2="509.4" stroke="#2e2e2e" stroke-width="0.6" />
<path d="M367.8 504.4 L356.4 511.4 L358.6 514.6 L370.0 507.6 Z" stroke="#2e2e2e" stroke-width="0.8" fill="#fff" />
<line x1="368.9" y1="506.0" x2="357.5" y2="513.0" stroke="#2e2e2e" stroke-width="0.6" />
<path d="M361.2 497.4 Q364.2 495.8 366.6 498.2 Q368.8 501 368.6 505 M363 499.4 Q365.6 499 366 503.6 M371 499.5 L371.2 505.5 L368.8 507" stroke="#2e2e2e" stroke-width="0.9" fill="none" />
</svg></body></html>
